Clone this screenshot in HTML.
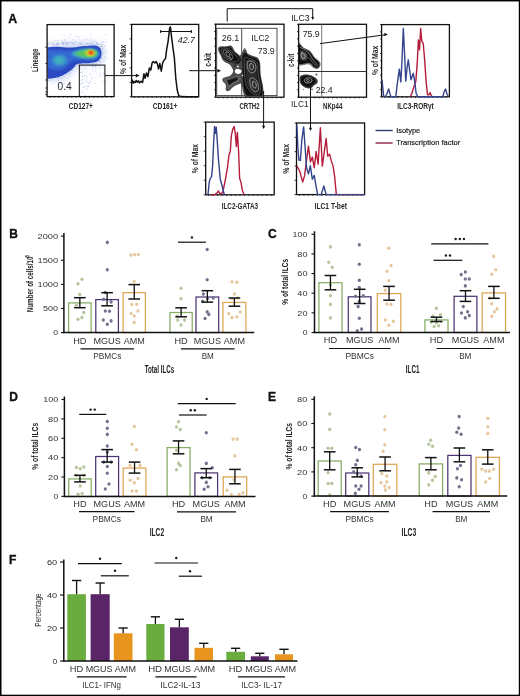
<!DOCTYPE html><html><head><meta charset="utf-8"><title>Figure</title><style>html,body{margin:0;padding:0;background:#fff;width:520px;height:696px;overflow:hidden;}svg{display:block;font-family:"Liberation Sans",sans-serif;will-change:transform;}</style></head><body><svg width="520" height="696" viewBox="0 0 520 696" font-family="'Liberation Sans', sans-serif">
<rect x="0" y="0" width="520" height="696" fill="#fff"/>
<text x="8.30" y="22.90" font-size="12.3" text-anchor="start" fill="#111" stroke="#111" stroke-width="0.35" font-weight="bold">A</text>
<defs><filter id="bl1" x="-20%" y="-20%" width="140%" height="140%"><feGaussianBlur stdDeviation="1.6"/></filter><filter id="bl2" x="-20%" y="-20%" width="140%" height="140%"><feGaussianBlur stdDeviation="1.0"/></filter><filter id="bl4" x="-20%" y="-20%" width="140%" height="140%"><feGaussianBlur stdDeviation="0.6"/></filter><filter id="bl3" x="-50%" y="-50%" width="200%" height="200%"><feGaussianBlur stdDeviation="2.5"/></filter><clipPath id="cp1"><rect x="47.6" y="25.1" width="66" height="71"/></clipPath></defs>
<g clip-path="url(#cp1)">
<path d="M47,43 C60,41.5 80,41 95,41.5 C103,42 105.5,47 105.5,53 C105.5,59 103,64 98,66 L80,66.5 C76,70 72,76 64,80 C58,82 52,82 47,81 Z" fill="#b8c6ee" opacity="0.55" filter="url(#bl3)"/>
<g fill="#7089d8" opacity="0.7"><circle cx="104.5" cy="45.6" r="0.45"/><circle cx="86.5" cy="43.7" r="0.45"/><circle cx="61.8" cy="41.1" r="0.45"/><circle cx="90.7" cy="81.8" r="0.45"/><circle cx="95.6" cy="64.5" r="0.45"/><circle cx="63.6" cy="44.7" r="0.45"/><circle cx="51.9" cy="42.1" r="0.45"/><circle cx="49.7" cy="80.3" r="0.45"/><circle cx="82.3" cy="41.9" r="0.45"/><circle cx="48.2" cy="42.8" r="0.45"/><circle cx="96.1" cy="64.1" r="0.45"/><circle cx="101.9" cy="55.7" r="0.45"/><circle cx="102.9" cy="52.9" r="0.45"/><circle cx="96.6" cy="43.1" r="0.45"/><circle cx="47.3" cy="43.8" r="0.45"/><circle cx="95.5" cy="70.7" r="0.45"/><circle cx="93.5" cy="41.3" r="0.45"/><circle cx="82.9" cy="71.8" r="0.45"/><circle cx="96.4" cy="42.9" r="0.45"/><circle cx="64.8" cy="76.8" r="0.45"/><circle cx="65.0" cy="72.7" r="0.45"/><circle cx="68.2" cy="84.7" r="0.45"/><circle cx="63.7" cy="43.9" r="0.45"/><circle cx="83.8" cy="76.1" r="0.45"/><circle cx="89.6" cy="74.6" r="0.45"/><circle cx="69.2" cy="37.0" r="0.45"/><circle cx="71.4" cy="88.7" r="0.45"/><circle cx="97.4" cy="42.6" r="0.45"/><circle cx="103.7" cy="72.2" r="0.45"/><circle cx="63.6" cy="42.4" r="0.45"/><circle cx="86.9" cy="69.0" r="0.45"/><circle cx="90.7" cy="39.4" r="0.45"/><circle cx="68.9" cy="73.2" r="0.45"/><circle cx="60.2" cy="76.7" r="0.45"/><circle cx="77.9" cy="36.5" r="0.45"/><circle cx="81.9" cy="90.7" r="0.45"/><circle cx="88.6" cy="83.5" r="0.45"/><circle cx="83.9" cy="69.5" r="0.45"/><circle cx="75.1" cy="66.4" r="0.45"/><circle cx="99.1" cy="61.3" r="0.45"/><circle cx="58.3" cy="80.7" r="0.45"/><circle cx="58.8" cy="77.8" r="0.45"/><circle cx="73.9" cy="43.8" r="0.45"/><circle cx="90.2" cy="64.9" r="0.45"/><circle cx="74.2" cy="41.9" r="0.45"/><circle cx="48.0" cy="43.5" r="0.45"/><circle cx="70.1" cy="35.1" r="0.45"/><circle cx="104.0" cy="68.9" r="0.45"/><circle cx="94.2" cy="63.2" r="0.45"/><circle cx="91.4" cy="77.7" r="0.45"/><circle cx="75.8" cy="65.8" r="0.45"/><circle cx="79.8" cy="94.2" r="0.45"/><circle cx="85.5" cy="63.4" r="0.45"/><circle cx="101.7" cy="58.2" r="0.45"/><circle cx="72.2" cy="43.0" r="0.45"/><circle cx="65.8" cy="42.4" r="0.45"/><circle cx="90.9" cy="42.8" r="0.45"/><circle cx="82.2" cy="79.7" r="0.45"/><circle cx="102.5" cy="53.7" r="0.45"/><circle cx="89.5" cy="80.7" r="0.45"/><circle cx="61.2" cy="35.8" r="0.45"/><circle cx="105.3" cy="34.2" r="0.45"/><circle cx="90.6" cy="83.0" r="0.45"/><circle cx="104.7" cy="59.5" r="0.45"/><circle cx="102.4" cy="48.6" r="0.45"/><circle cx="75.3" cy="66.7" r="0.45"/><circle cx="78.9" cy="66.8" r="0.45"/><circle cx="86.6" cy="78.8" r="0.45"/><circle cx="68.7" cy="43.2" r="0.45"/><circle cx="57.4" cy="44.2" r="0.45"/><circle cx="66.2" cy="43.3" r="0.45"/><circle cx="80.2" cy="44.4" r="0.45"/><circle cx="86.1" cy="39.4" r="0.45"/><circle cx="82.5" cy="63.2" r="0.45"/><circle cx="64.8" cy="73.2" r="0.45"/><circle cx="67.5" cy="71.0" r="0.45"/><circle cx="67.8" cy="42.2" r="0.45"/><circle cx="47.3" cy="79.4" r="0.45"/><circle cx="82.5" cy="82.9" r="0.45"/><circle cx="58.4" cy="43.9" r="0.45"/><circle cx="101.7" cy="46.6" r="0.45"/><circle cx="70.5" cy="42.4" r="0.45"/><circle cx="66.0" cy="41.8" r="0.45"/><circle cx="53.2" cy="44.1" r="0.45"/><circle cx="81.4" cy="63.5" r="0.45"/><circle cx="91.1" cy="65.3" r="0.45"/><circle cx="85.2" cy="75.9" r="0.45"/><circle cx="63.8" cy="42.5" r="0.45"/><circle cx="102.7" cy="42.0" r="0.45"/><circle cx="66.0" cy="72.0" r="0.45"/><circle cx="70.0" cy="87.8" r="0.45"/><circle cx="84.7" cy="80.0" r="0.45"/><circle cx="58.3" cy="77.9" r="0.45"/><circle cx="92.2" cy="43.1" r="0.45"/><circle cx="66.4" cy="73.8" r="0.45"/><circle cx="105.5" cy="81.8" r="0.45"/><circle cx="92.0" cy="44.4" r="0.45"/><circle cx="71.6" cy="42.3" r="0.45"/><circle cx="70.4" cy="34.6" r="0.45"/><circle cx="87.1" cy="43.2" r="0.45"/><circle cx="48.9" cy="80.2" r="0.45"/><circle cx="62.0" cy="42.9" r="0.45"/><circle cx="76.1" cy="41.4" r="0.45"/><circle cx="79.5" cy="88.3" r="0.45"/><circle cx="100.1" cy="74.0" r="0.45"/><circle cx="56.9" cy="77.4" r="0.45"/><circle cx="96.0" cy="44.4" r="0.45"/><circle cx="90.8" cy="63.6" r="0.45"/><circle cx="72.3" cy="42.1" r="0.45"/><circle cx="68.7" cy="70.9" r="0.45"/><circle cx="57.3" cy="42.9" r="0.45"/><circle cx="51.7" cy="78.7" r="0.45"/><circle cx="107.4" cy="78.7" r="0.45"/><circle cx="54.9" cy="40.7" r="0.45"/><circle cx="97.5" cy="65.1" r="0.45"/><circle cx="64.2" cy="39.3" r="0.45"/><circle cx="72.5" cy="70.5" r="0.45"/><circle cx="80.2" cy="63.1" r="0.45"/><circle cx="62.4" cy="78.3" r="0.45"/><circle cx="99.5" cy="75.5" r="0.45"/><circle cx="96.2" cy="73.2" r="0.45"/><circle cx="82.6" cy="92.2" r="0.45"/><circle cx="103.0" cy="81.3" r="0.45"/><circle cx="52.9" cy="44.2" r="0.45"/><circle cx="92.8" cy="64.6" r="0.45"/><circle cx="85.4" cy="44.4" r="0.45"/><circle cx="102.2" cy="44.4" r="0.45"/><circle cx="56.3" cy="44.5" r="0.45"/><circle cx="81.3" cy="66.8" r="0.45"/><circle cx="89.2" cy="43.7" r="0.45"/><circle cx="64.6" cy="35.9" r="0.45"/><circle cx="103.1" cy="75.9" r="0.45"/><circle cx="97.4" cy="44.5" r="0.45"/><circle cx="100.2" cy="62.8" r="0.45"/><circle cx="102.3" cy="47.3" r="0.45"/><circle cx="66.3" cy="89.4" r="0.45"/><circle cx="97.5" cy="42.6" r="0.45"/><circle cx="69.9" cy="84.1" r="0.45"/><circle cx="86.3" cy="71.9" r="0.45"/><circle cx="100.3" cy="45.3" r="0.45"/><circle cx="71.5" cy="70.5" r="0.45"/><circle cx="103.0" cy="41.7" r="0.45"/><circle cx="79.3" cy="37.8" r="0.45"/><circle cx="96.6" cy="63.1" r="0.45"/><circle cx="87.1" cy="89.0" r="0.45"/><circle cx="70.0" cy="72.5" r="0.45"/><circle cx="84.6" cy="75.5" r="0.45"/><circle cx="86.0" cy="87.9" r="0.45"/><circle cx="82.1" cy="73.1" r="0.45"/><circle cx="92.0" cy="81.8" r="0.45"/><circle cx="91.4" cy="79.4" r="0.45"/><circle cx="86.4" cy="39.1" r="0.45"/><circle cx="82.8" cy="76.5" r="0.45"/><circle cx="63.1" cy="43.4" r="0.45"/><circle cx="82.7" cy="76.4" r="0.45"/><circle cx="91.4" cy="43.5" r="0.45"/><circle cx="89.7" cy="44.8" r="0.45"/><circle cx="51.6" cy="78.3" r="0.45"/><circle cx="82.6" cy="84.1" r="0.45"/><circle cx="95.0" cy="77.1" r="0.45"/><circle cx="63.6" cy="43.1" r="0.45"/><circle cx="47.7" cy="79.2" r="0.45"/><circle cx="92.4" cy="71.3" r="0.45"/><circle cx="80.5" cy="72.5" r="0.45"/><circle cx="87.3" cy="43.4" r="0.45"/><circle cx="62.9" cy="43.1" r="0.45"/><circle cx="94.6" cy="44.4" r="0.45"/><circle cx="100.4" cy="73.1" r="0.45"/><circle cx="57.8" cy="40.5" r="0.45"/><circle cx="72.9" cy="68.2" r="0.45"/><circle cx="99.7" cy="61.6" r="0.45"/><circle cx="53.9" cy="44.6" r="0.45"/><circle cx="104.3" cy="56.5" r="0.45"/><circle cx="80.0" cy="44.0" r="0.45"/><circle cx="92.4" cy="75.6" r="0.45"/><circle cx="57.8" cy="76.6" r="0.45"/><circle cx="86.4" cy="81.9" r="0.45"/><circle cx="102.2" cy="42.1" r="0.45"/><circle cx="75.7" cy="36.8" r="0.45"/><circle cx="64.8" cy="72.6" r="0.45"/><circle cx="82.6" cy="44.6" r="0.45"/><circle cx="73.6" cy="67.3" r="0.45"/><circle cx="92.5" cy="69.3" r="0.45"/><circle cx="88.2" cy="65.0" r="0.45"/><circle cx="92.5" cy="63.8" r="0.45"/><circle cx="99.3" cy="65.6" r="0.45"/><circle cx="88.0" cy="86.2" r="0.45"/><circle cx="105.1" cy="52.5" r="0.45"/><circle cx="80.7" cy="84.4" r="0.45"/><circle cx="52.6" cy="42.9" r="0.45"/><circle cx="79.8" cy="42.8" r="0.45"/><circle cx="99.8" cy="76.3" r="0.45"/><circle cx="49.5" cy="78.7" r="0.45"/><circle cx="83.6" cy="82.4" r="0.45"/><circle cx="68.6" cy="70.9" r="0.45"/><circle cx="98.1" cy="44.6" r="0.45"/><circle cx="74.9" cy="42.9" r="0.45"/><circle cx="87.0" cy="86.3" r="0.45"/><circle cx="67.0" cy="44.5" r="0.45"/><circle cx="90.5" cy="73.8" r="0.45"/><circle cx="103.9" cy="46.5" r="0.45"/><circle cx="62.3" cy="43.0" r="0.45"/><circle cx="100.1" cy="69.9" r="0.45"/><circle cx="100.6" cy="67.5" r="0.45"/><circle cx="84.9" cy="95.4" r="0.45"/><circle cx="94.2" cy="92.2" r="0.45"/><circle cx="62.2" cy="75.0" r="0.45"/><circle cx="98.9" cy="91.4" r="0.45"/><circle cx="94.0" cy="66.2" r="0.45"/><circle cx="100.7" cy="61.0" r="0.45"/><circle cx="63.2" cy="74.5" r="0.45"/><circle cx="51.9" cy="78.5" r="0.45"/><circle cx="86.6" cy="63.5" r="0.45"/><circle cx="90.8" cy="40.9" r="0.45"/><circle cx="88.9" cy="44.8" r="0.45"/><circle cx="101.6" cy="57.2" r="0.45"/><circle cx="62.5" cy="84.9" r="0.45"/><circle cx="62.6" cy="75.0" r="0.45"/><circle cx="47.7" cy="87.3" r="0.45"/><circle cx="49.5" cy="79.8" r="0.45"/><circle cx="87.1" cy="76.7" r="0.45"/><circle cx="95.9" cy="66.0" r="0.45"/><circle cx="93.6" cy="64.8" r="0.45"/><circle cx="65.2" cy="40.1" r="0.45"/><circle cx="102.9" cy="49.9" r="0.45"/><circle cx="88.7" cy="86.1" r="0.45"/><circle cx="101.4" cy="46.4" r="0.45"/><circle cx="95.7" cy="68.0" r="0.45"/><circle cx="101.6" cy="44.5" r="0.45"/><circle cx="91.5" cy="66.4" r="0.45"/><circle cx="75.1" cy="43.9" r="0.45"/><circle cx="86.9" cy="80.1" r="0.45"/><circle cx="68.9" cy="42.6" r="0.45"/><circle cx="65.9" cy="44.3" r="0.45"/><circle cx="78.9" cy="64.3" r="0.45"/><circle cx="106.9" cy="58.3" r="0.45"/><circle cx="104.0" cy="73.9" r="0.45"/><circle cx="83.9" cy="64.2" r="0.45"/><circle cx="100.7" cy="46.7" r="0.45"/><circle cx="82.6" cy="79.7" r="0.45"/><circle cx="68.6" cy="43.5" r="0.45"/><circle cx="95.7" cy="83.6" r="0.45"/><circle cx="61.8" cy="40.7" r="0.45"/><circle cx="64.2" cy="83.3" r="0.45"/><circle cx="82.7" cy="44.5" r="0.45"/><circle cx="47.3" cy="78.6" r="0.45"/><circle cx="88.5" cy="63.5" r="0.45"/><circle cx="87.8" cy="82.4" r="0.45"/><circle cx="107.5" cy="82.8" r="0.45"/><circle cx="73.4" cy="44.1" r="0.45"/><circle cx="58.5" cy="43.8" r="0.45"/><circle cx="91.1" cy="34.3" r="0.45"/><circle cx="72.6" cy="39.6" r="0.45"/><circle cx="64.4" cy="42.3" r="0.45"/><circle cx="56.1" cy="44.7" r="0.45"/><circle cx="84.9" cy="67.7" r="0.45"/><circle cx="61.8" cy="75.4" r="0.45"/><circle cx="102.5" cy="48.7" r="0.45"/><circle cx="51.5" cy="77.9" r="0.45"/><circle cx="79.6" cy="94.6" r="0.45"/><circle cx="85.4" cy="86.3" r="0.45"/><circle cx="58.0" cy="42.1" r="0.45"/><circle cx="81.7" cy="80.8" r="0.45"/><circle cx="105.8" cy="41.2" r="0.45"/><circle cx="102.6" cy="74.1" r="0.45"/><circle cx="88.8" cy="85.9" r="0.45"/><circle cx="66.3" cy="43.2" r="0.45"/><circle cx="103.0" cy="67.7" r="0.45"/><circle cx="77.8" cy="44.6" r="0.45"/><circle cx="94.9" cy="41.2" r="0.45"/><circle cx="105.3" cy="80.2" r="0.45"/><circle cx="83.5" cy="87.5" r="0.45"/><circle cx="80.3" cy="43.4" r="0.45"/><circle cx="56.8" cy="43.5" r="0.45"/><circle cx="70.5" cy="76.2" r="0.45"/><circle cx="65.8" cy="72.5" r="0.45"/><circle cx="77.6" cy="64.6" r="0.45"/><circle cx="92.7" cy="66.1" r="0.45"/><circle cx="81.4" cy="42.9" r="0.45"/><circle cx="85.6" cy="44.7" r="0.45"/><circle cx="82.0" cy="83.1" r="0.45"/><circle cx="72.4" cy="67.8" r="0.45"/><circle cx="61.7" cy="74.8" r="0.45"/><circle cx="83.2" cy="87.0" r="0.45"/><circle cx="81.0" cy="63.3" r="0.45"/><circle cx="104.0" cy="61.7" r="0.45"/><circle cx="98.2" cy="44.7" r="0.45"/><circle cx="82.5" cy="72.4" r="0.45"/><circle cx="57.8" cy="78.4" r="0.45"/><circle cx="81.0" cy="69.9" r="0.45"/><circle cx="95.3" cy="66.5" r="0.45"/><circle cx="67.1" cy="78.4" r="0.45"/><circle cx="89.3" cy="63.7" r="0.45"/><circle cx="96.3" cy="44.1" r="0.45"/><circle cx="80.2" cy="72.6" r="0.45"/></g>
<path d="M46,47.5 C50,46.8 54,46.6 57.5,46.7 C62,47.0 66,47.6 69,47.6 C72,47.5 74,47.4 76,47.3 C79,46.8 81,46.3 84,46.1 C88,45.8 92,45.4 94.5,45.5 C97,45.8 99,46.6 100.3,48.3 C101.6,50.5 101.8,53.5 101.2,56.2 C100.5,58.5 99.4,60.3 97.6,61.3 C95.5,62.4 92.5,62.8 90,63.0 C86,63.2 82.5,63.3 80.5,63.5 C78,63.8 76.5,64.3 75.5,65.2 C74.5,66.5 73.8,67.8 72.5,69.0 C71,70.3 69.5,71.3 68,72.3 C66,73.6 64.5,74.5 62.5,75.5 C60.5,76.5 58.5,77.0 56.5,77.4 C54,77.9 51,78.5 48.5,78.7 L46,78.7 Z" fill="#2b4ac2" filter="url(#bl4)"/>
<path d="M46,50.5 C52,49.8 60,50.0 68,50.5 C74,50.8 80,49.5 88,48.8 C94,48.5 98.5,49.5 99.2,52.5 C99.8,55.5 98.5,58.5 95.5,59.5 C91,60.5 84,60.2 78,60.2 C73,60.3 70.5,62 68.5,64.5 C66.5,67.2 63.5,69.3 59.5,70.0 C55.5,70.6 51.5,69.5 48.5,68 L46,67 Z" fill="#3468d0" filter="url(#bl2)"/>
<ellipse cx="59.5" cy="60.2" rx="8.0" ry="6.0" fill="#3a8ad0" filter="url(#bl2)"/>
<ellipse cx="59.2" cy="60.5" rx="5.2" ry="3.9" fill="#40b0bc" filter="url(#bl1)"/>
<path d="M71,53.5 C75,51 80,49.2 86,48.8 C92,48.5 97.5,49.3 98.5,52.5 C99.3,55.8 96.5,58.2 91,58.6 C85,59 79,57.8 75,56.3 C73,55.6 71.5,54.6 71,53.5 Z" fill="#3fb4c0" filter="url(#bl2)"/>
<path d="M75,53.4 C79,51.2 84,50.0 89,49.8 C94,49.8 97,51 97,53.3 C97,55.6 94,57.2 89.5,57.3 C84.5,57.4 79.5,56.2 75,53.4 Z" fill="#5cc35a" filter="url(#bl2)"/>
<ellipse cx="90.2" cy="53.0" rx="5.0" ry="3.2" fill="#d8dc38" filter="url(#bl2)"/>
<ellipse cx="90.8" cy="52.8" rx="3.0" ry="2.1" fill="#f0a020" filter="url(#bl2)"/>
<ellipse cx="91.0" cy="52.7" rx="2.2" ry="1.6" fill="#e42a18" filter="url(#bl2)"/>
</g>
<rect x="47.10" y="24.60" width="67.00" height="72.00" fill="none" stroke="#111" stroke-width="1.3"/>
<line x1="45.30" y1="47.20" x2="47.10" y2="47.20" stroke="#111" stroke-width="0.8"/>
<line x1="45.30" y1="63.40" x2="47.10" y2="63.40" stroke="#111" stroke-width="0.8"/>
<line x1="45.30" y1="80.00" x2="47.10" y2="80.00" stroke="#111" stroke-width="0.8"/>
<line x1="45.30" y1="88.00" x2="47.10" y2="88.00" stroke="#111" stroke-width="0.8"/>
<line x1="45.30" y1="92.00" x2="47.10" y2="92.00" stroke="#111" stroke-width="0.8"/>
<line x1="45.30" y1="94.50" x2="47.10" y2="94.50" stroke="#111" stroke-width="0.8"/>
<line x1="50.10" y1="96.60" x2="50.10" y2="97.80" stroke="#111" stroke-width="0.8"/>
<line x1="54.46" y1="96.60" x2="54.46" y2="97.80" stroke="#111" stroke-width="0.8"/>
<line x1="58.81" y1="96.60" x2="58.81" y2="97.80" stroke="#111" stroke-width="0.8"/>
<line x1="63.17" y1="96.60" x2="63.17" y2="97.80" stroke="#111" stroke-width="0.8"/>
<line x1="67.53" y1="96.60" x2="67.53" y2="97.80" stroke="#111" stroke-width="0.8"/>
<line x1="71.89" y1="96.60" x2="71.89" y2="97.80" stroke="#111" stroke-width="0.8"/>
<line x1="76.24" y1="96.60" x2="76.24" y2="97.80" stroke="#111" stroke-width="0.8"/>
<line x1="80.60" y1="96.60" x2="80.60" y2="97.80" stroke="#111" stroke-width="0.8"/>
<line x1="84.96" y1="96.60" x2="84.96" y2="97.80" stroke="#111" stroke-width="0.8"/>
<line x1="89.31" y1="96.60" x2="89.31" y2="97.80" stroke="#111" stroke-width="0.8"/>
<line x1="93.67" y1="96.60" x2="93.67" y2="97.80" stroke="#111" stroke-width="0.8"/>
<line x1="98.03" y1="96.60" x2="98.03" y2="97.80" stroke="#111" stroke-width="0.8"/>
<line x1="102.39" y1="96.60" x2="102.39" y2="97.80" stroke="#111" stroke-width="0.8"/>
<line x1="106.74" y1="96.60" x2="106.74" y2="97.80" stroke="#111" stroke-width="0.8"/>
<line x1="111.10" y1="96.60" x2="111.10" y2="97.80" stroke="#111" stroke-width="0.8"/>
<rect x="79.30" y="65.10" width="25.60" height="31.50" fill="none" stroke="#111" stroke-width="1.0"/>
<text x="64.70" y="89.60" font-size="10.2" text-anchor="middle" fill="#2a2a38">0.4</text>
<text x="38.30" y="60.30" font-size="8.6" text-anchor="middle" fill="#262626" font-weight="bold" textLength="23.3" lengthAdjust="spacingAndGlyphs" transform="rotate(-90 38.30 60.30)">Lineage</text>
<text x="80.80" y="109.30" font-size="8.2" text-anchor="middle" fill="#262626" font-weight="bold" textLength="24.2" lengthAdjust="spacingAndGlyphs">CD127+</text>
<line x1="104.90" y1="75.60" x2="136.50" y2="75.60" stroke="#111" stroke-width="1.0"/>
<polygon points="139.50,75.60 135.86,73.78 135.86,77.42" fill="#111"/>
<rect x="131.60" y="24.40" width="67.10" height="72.40" fill="none" stroke="#111" stroke-width="1.3"/>
<line x1="129.60" y1="96.80" x2="131.60" y2="96.80" stroke="#111" stroke-width="0.8"/>
<line x1="129.60" y1="82.32" x2="131.60" y2="82.32" stroke="#111" stroke-width="0.8"/>
<line x1="129.60" y1="67.84" x2="131.60" y2="67.84" stroke="#111" stroke-width="0.8"/>
<line x1="129.60" y1="53.36" x2="131.60" y2="53.36" stroke="#111" stroke-width="0.8"/>
<line x1="129.60" y1="38.88" x2="131.60" y2="38.88" stroke="#111" stroke-width="0.8"/>
<line x1="129.60" y1="24.40" x2="131.60" y2="24.40" stroke="#111" stroke-width="0.8"/>
<line x1="134.60" y1="96.80" x2="134.60" y2="98.00" stroke="#111" stroke-width="0.8"/>
<line x1="138.96" y1="96.80" x2="138.96" y2="98.00" stroke="#111" stroke-width="0.8"/>
<line x1="143.33" y1="96.80" x2="143.33" y2="98.00" stroke="#111" stroke-width="0.8"/>
<line x1="147.69" y1="96.80" x2="147.69" y2="98.00" stroke="#111" stroke-width="0.8"/>
<line x1="152.06" y1="96.80" x2="152.06" y2="98.00" stroke="#111" stroke-width="0.8"/>
<line x1="156.42" y1="96.80" x2="156.42" y2="98.00" stroke="#111" stroke-width="0.8"/>
<line x1="160.79" y1="96.80" x2="160.79" y2="98.00" stroke="#111" stroke-width="0.8"/>
<line x1="165.15" y1="96.80" x2="165.15" y2="98.00" stroke="#111" stroke-width="0.8"/>
<line x1="169.51" y1="96.80" x2="169.51" y2="98.00" stroke="#111" stroke-width="0.8"/>
<line x1="173.88" y1="96.80" x2="173.88" y2="98.00" stroke="#111" stroke-width="0.8"/>
<line x1="178.24" y1="96.80" x2="178.24" y2="98.00" stroke="#111" stroke-width="0.8"/>
<line x1="182.61" y1="96.80" x2="182.61" y2="98.00" stroke="#111" stroke-width="0.8"/>
<line x1="186.97" y1="96.80" x2="186.97" y2="98.00" stroke="#111" stroke-width="0.8"/>
<line x1="191.34" y1="96.80" x2="191.34" y2="98.00" stroke="#111" stroke-width="0.8"/>
<line x1="195.70" y1="96.80" x2="195.70" y2="98.00" stroke="#111" stroke-width="0.8"/>
<path d="M132.27,79.74 L133.12,83.30 L133.97,81.45 L135.11,82.59 L136.25,80.46 L137.39,82.30 L138.53,80.88 L139.66,82.87 L141.09,81.17 L142.51,82.59 L143.93,73.77 L145.07,78.32 L146.49,72.92 L147.91,76.61 L149.34,68.08 L150.76,70.07 L152.18,62.67 L153.32,61.54 L154.74,62.96 L156.17,61.54 L157.45,64.10 L158.58,69.08 L159.86,63.53 L161.29,71.21 L162.71,62.67 L164.13,60.11 L165.55,58.41 L166.69,49.16 L168.11,41.34 L169.54,28.82 L170.39,26.83 L171.53,36.79 L172.95,47.74 L174.37,58.12 L175.80,78.32 L177.22,89.99 L178.64,95.39 L180.63,96.53 L187.74,96.81 L198.41,96.81" fill="none" stroke="#111" stroke-width="1.5" stroke-linejoin="round"/>
<line x1="160.70" y1="31.50" x2="191.30" y2="31.50" stroke="#111" stroke-width="1.0"/>
<line x1="160.70" y1="30.00" x2="160.70" y2="33.00" stroke="#111" stroke-width="1.1"/>
<line x1="191.30" y1="30.00" x2="191.30" y2="33.00" stroke="#111" stroke-width="1.1"/>
<text x="186.30" y="42.50" font-size="8.8" text-anchor="middle" fill="#222" font-style="italic">42.7</text>
<text x="126.00" y="59.30" font-size="8.8" text-anchor="middle" fill="#262626" font-weight="bold" textLength="29.3" lengthAdjust="spacingAndGlyphs" transform="rotate(-90 126.00 59.30)">% of Max</text>
<text x="165.10" y="109.40" font-size="8.4" text-anchor="middle" fill="#262626" font-weight="bold" textLength="24.8" lengthAdjust="spacingAndGlyphs">CD161+</text>
<line x1="189.20" y1="70.70" x2="218.50" y2="70.70" stroke="#111" stroke-width="1.0"/>
<polygon points="221.00,70.70 217.50,68.95 217.50,72.45" fill="#111"/>
<rect x="215.70" y="24.20" width="68.30" height="73.00" fill="none" stroke="#111" stroke-width="1.3"/>
<line x1="214.10" y1="97.20" x2="215.70" y2="97.20" stroke="#111" stroke-width="0.8"/>
<line x1="214.10" y1="89.90" x2="215.70" y2="89.90" stroke="#111" stroke-width="0.8"/>
<line x1="214.10" y1="82.60" x2="215.70" y2="82.60" stroke="#111" stroke-width="0.8"/>
<line x1="214.10" y1="75.30" x2="215.70" y2="75.30" stroke="#111" stroke-width="0.8"/>
<line x1="214.10" y1="68.00" x2="215.70" y2="68.00" stroke="#111" stroke-width="0.8"/>
<line x1="214.10" y1="60.70" x2="215.70" y2="60.70" stroke="#111" stroke-width="0.8"/>
<line x1="214.10" y1="53.40" x2="215.70" y2="53.40" stroke="#111" stroke-width="0.8"/>
<line x1="214.10" y1="46.10" x2="215.70" y2="46.10" stroke="#111" stroke-width="0.8"/>
<line x1="214.10" y1="38.80" x2="215.70" y2="38.80" stroke="#111" stroke-width="0.8"/>
<line x1="214.10" y1="31.50" x2="215.70" y2="31.50" stroke="#111" stroke-width="0.8"/>
<line x1="214.10" y1="24.20" x2="215.70" y2="24.20" stroke="#111" stroke-width="0.8"/>
<line x1="218.70" y1="97.20" x2="218.70" y2="98.40" stroke="#111" stroke-width="0.8"/>
<line x1="223.15" y1="97.20" x2="223.15" y2="98.40" stroke="#111" stroke-width="0.8"/>
<line x1="227.60" y1="97.20" x2="227.60" y2="98.40" stroke="#111" stroke-width="0.8"/>
<line x1="232.05" y1="97.20" x2="232.05" y2="98.40" stroke="#111" stroke-width="0.8"/>
<line x1="236.50" y1="97.20" x2="236.50" y2="98.40" stroke="#111" stroke-width="0.8"/>
<line x1="240.95" y1="97.20" x2="240.95" y2="98.40" stroke="#111" stroke-width="0.8"/>
<line x1="245.40" y1="97.20" x2="245.40" y2="98.40" stroke="#111" stroke-width="0.8"/>
<line x1="249.85" y1="97.20" x2="249.85" y2="98.40" stroke="#111" stroke-width="0.8"/>
<line x1="254.30" y1="97.20" x2="254.30" y2="98.40" stroke="#111" stroke-width="0.8"/>
<line x1="258.75" y1="97.20" x2="258.75" y2="98.40" stroke="#111" stroke-width="0.8"/>
<line x1="263.20" y1="97.20" x2="263.20" y2="98.40" stroke="#111" stroke-width="0.8"/>
<line x1="267.65" y1="97.20" x2="267.65" y2="98.40" stroke="#111" stroke-width="0.8"/>
<line x1="272.10" y1="97.20" x2="272.10" y2="98.40" stroke="#111" stroke-width="0.8"/>
<line x1="276.55" y1="97.20" x2="276.55" y2="98.40" stroke="#111" stroke-width="0.8"/>
<line x1="281.00" y1="97.20" x2="281.00" y2="98.40" stroke="#111" stroke-width="0.8"/>
<rect x="216.70" y="28.30" width="60.30" height="67.30" fill="none" stroke="#3a3a3a" stroke-width="0.9"/>
<line x1="241.70" y1="28.30" x2="241.70" y2="95.60" stroke="#3a3a3a" stroke-width="0.9"/>
<text x="230.50" y="40.70" font-size="9.0" text-anchor="middle" fill="#222">26.1</text>
<text x="260.30" y="40.70" font-size="9.0" text-anchor="middle" fill="#222" textLength="18.0" lengthAdjust="spacingAndGlyphs">ILC2</text>
<text x="266.20" y="54.20" font-size="8.8" text-anchor="middle" fill="#222">73.9</text>
<path d="M218.2,48 C219.5,46 222,46.2 224.5,46.6 C227,46.4 229,45.4 231,45.6 C232.8,46.4 233.4,49 234.5,51 C236,52.5 238,54 240,55.8 C241.2,54 242.5,51.5 243.8,50.3 C245,49.6 246.5,50.5 247.6,53.6 C250.5,55.5 254.5,56.2 257.5,57.6 C259.6,59.5 260.4,63 260.4,67 C260.4,71 260.6,75 261.4,78.5 C262.4,82.5 263.2,86.5 263.4,90 C263.6,93 263.4,95.5 262.8,97 L245,97 C243.6,94.5 242.6,91 242.4,88 C242,86 241.6,84.5 240.8,83.4 C238.5,84.2 236,84.8 233.8,86.4 C231.6,88 230,90.5 228.2,91.2 C226,91.4 225.2,89.5 225.8,87.5 C226.3,85.5 225.4,83.8 224,82.5 C222.4,81.2 221.6,79.5 223,78.2 C225,77.2 227.5,77 229.6,76 C231.6,74.8 233,73 233.2,71 C233.0,69 231.8,67.5 231,66 C229.8,64.2 227.5,63.2 225.2,62.2 C223,61 221.6,59 221.2,56.6 C220.4,54.4 218.6,52.6 218.2,50 Z" fill="#4a4a4a" stroke="none"/>
<path d="M219.5,48.4 C221.5,47 224,47.4 226.5,47.6 C228.5,47.3 230.5,46.8 231.5,48 C232.3,50 233.6,52 235.6,53.6 C237.6,55 239.6,56.6 240.8,58.6 C241.4,60.6 240.4,62.6 238.6,63.4 C236.4,64 234,63.4 231.8,62.6 C229.2,61.6 226.6,60.8 224.6,59.2 C222.6,57.6 221.8,55.2 221,53 C220.2,51.4 219.2,50 219.5,48.4 Z" fill="#111" stroke="none"/>
<path d="M242.6,56 C243.6,53.6 245,51.6 246.4,53.4 C247.6,55.4 250,56.6 253,57.4 C256,58.2 258.4,59.4 259.2,62.4 C259.8,66 259.4,70 259.8,74 C260.4,78 261.4,82 262,86 C262.6,89.5 262.6,93 261.8,95.8 L247,95.8 C245.4,93.6 244.4,90.5 243.8,87.4 C243.2,84 242.8,80 242.6,76 C242.4,71 242.6,66 242.4,61 C242.3,59 242.3,57.5 242.6,56 Z" fill="#111" stroke="none"/>
<path d="M224,79.2 C226.5,78.2 229.5,77.8 232,76.6 C234.5,75.4 237.2,74.8 239.2,75.4 C240.8,76.6 241,79 240,81 C238.6,82.6 236,83.4 234,84.6 C232,86 230.4,88.2 228.8,89.6 C227.6,90.2 227,89 227.4,87.6 C227.6,85.6 226.4,83.6 225,82.4 C223.8,81.4 223.2,80.2 224,79.2 Z" fill="#5c5c5c" stroke="none"/>
<path d="M226.5,79.6 C228.5,78.8 231,78.6 233,77.8 C235,77 237,76.8 238,77.6 C238.6,79 237.4,80.4 235.6,81.2 C233.6,82 231.8,83 230.2,84.4 C229,85.2 228.2,84.4 228.2,83.2 C228.2,82 227.4,81 226.6,80.6 Z" fill="#151515" stroke="none"/>
<path d="M235.5,69.5 C237.5,68.6 240,69 241.4,70.5 C242,72 240.6,73.6 238.6,74 C236.6,74.2 235,73.2 234.8,71.6 C234.7,70.6 235,70 235.5,69.5 Z" fill="#fff"/>
<path d="M221.2,49.2 C223.5,48.6 226,49 228.6,48.8 C230.6,49 231.4,51 232.8,53 C234.6,55 237,56.2 238.6,58.2 C239.4,60 238.4,61.8 236.4,62 C233.6,62 231,61 228.4,60 C225.8,59 224,57.4 223,55 C222.2,53 221.2,51.2 221.2,49.2 Z" fill="none" stroke="#808080" stroke-width="0.55"/>
<path d="M223.4,50.4 C225.4,50 227.6,50.2 229.4,51 C231,52.4 231.6,54.6 232.6,56.4 C233.4,58.2 232.2,59.6 230.4,59.2 C228.2,58.6 226.2,57.4 225,55.6 C224,54 223.4,52.2 223.4,50.4 Z" fill="none" stroke="#b0b0b0" stroke-width="0.55"/>
<path d="M226,52 C227.6,51.6 229,52.4 229.6,54 C230.2,55.6 229.4,57 228,56.6 C226.8,56 226,54.6 226,53.2 Z" fill="none" stroke="#e0e0e0" stroke-width="0.6"/>
<path d="M245.6,60 C247.5,58.8 250.5,59.6 253,60.8 C255.5,62 256.8,64.5 256.6,68 C256.4,71.5 256.6,75 257.6,78.5 C258.6,82 259.4,86 259,90 C258.4,93 255.6,93.6 253,92.4 C250.4,91 248.6,88 247.6,85 C246.6,82 246.2,78.5 246,75 C245.8,70 245.2,64.5 245.6,60 Z" fill="#2c2c2c"/>
<path d="M244.2,58.2 C245.6,56.6 247.6,57.6 249.8,58.6 C252.6,59.6 255.6,60.4 257.2,62.8 C258.2,65.6 257.6,68.8 257.8,72 C258.2,75 259.2,78.6 259.8,82 C260.4,86 260.6,90 259.6,93.6 C257.6,95 254.4,94.4 252,93 C249.2,91 247.4,88 246.2,84.8 C245,81.4 244.8,78 244.6,74.6 C244.4,69 244,63.4 244.2,58.2 Z" fill="none" stroke="#808080" stroke-width="0.55"/>
<path d="M247.6,61.6 C249.6,60.2 252.6,61 254.6,62.8 C256.2,64.8 256.2,67.6 255.6,70.2 C254.8,72.6 252.6,73.4 250.6,72.6 C248.6,71.4 247.6,69 247.2,66.4 C247,64.6 247,63 247.6,61.6 Z" fill="none" stroke="#c8c8c8" stroke-width="0.6"/>
<path d="M250.2,63.8 C251.6,63.2 253,64 253.4,65.8 C253.8,67.8 253,69.6 251.6,69.6 C250.2,69.4 249.6,67.8 249.6,66.2 C249.6,65.2 249.8,64.4 250.2,63.8 Z" fill="none" stroke="#eaeaea" stroke-width="0.6"/>
<path d="M250.4,78.2 C252.4,77.2 254.8,78.4 256.4,80.6 C258,83 258.8,86 258.6,89 C258.2,91.6 256,92.2 254,91.2 C251.8,90 250.6,87.6 250.2,85 C249.8,82.6 249.6,80 250.4,78.2 Z" fill="none" stroke="#c0c0c0" stroke-width="0.6"/>
<path d="M252.8,81.4 C254,81 255.4,82 256,83.8 C256.6,85.6 256.4,87.6 255.2,88 C253.8,88.2 252.8,86.8 252.6,85 C252.4,83.6 252.4,82.2 252.8,81.4 Z" fill="none" stroke="#e6e6e6" stroke-width="0.6"/>
<path d="M226,80.2 C228.4,79.4 231,79.2 233.4,78.2 C235.6,77.4 238,77.2 238.6,78.6 C238.8,80 237,81.2 235,82 C232.6,83 230.6,84.4 229.2,86.4" fill="none" stroke="#888" stroke-width="0.55"/>
<path d="M229,56.6 C230.6,57.2 231.4,58.6 231,59.8" fill="none" stroke="#fff" stroke-width="0.5"/>
<circle cx="235" cy="65.5" r="0.9" fill="#222"/><circle cx="237.8" cy="66.5" r="1.1" fill="#fff" stroke="#555" stroke-width="0.4"/><circle cx="245.5" cy="92" r="0.9" fill="#222"/><circle cx="242.6" cy="75.5" r="0.7" fill="#fff"/>
<path d="M243.2,50.8 L244.6,48.2 L246.2,50.8 Z" fill="none" stroke="#222" stroke-width="0.7"/>
<text x="210.60" y="59.90" font-size="8.8" text-anchor="middle" fill="#262626" font-weight="bold" textLength="13.8" lengthAdjust="spacingAndGlyphs" transform="rotate(-90 210.60 59.90)">c-kit</text>
<text x="249.50" y="108.80" font-size="8.4" text-anchor="middle" fill="#262626" font-weight="bold" textLength="20.2" lengthAdjust="spacingAndGlyphs">CRTH2</text>
<line x1="227.20" y1="21.50" x2="227.20" y2="8.70" stroke="#111" stroke-width="1.0"/>
<line x1="227.20" y1="8.70" x2="312.70" y2="8.70" stroke="#111" stroke-width="1.0"/>
<line x1="312.70" y1="8.70" x2="312.70" y2="17.00" stroke="#111" stroke-width="1.0"/>
<polygon points="312.70,20.00 311.16,16.92 314.24,16.92" fill="#111"/>
<line x1="263.60" y1="91.00" x2="263.60" y2="126.00" stroke="#111" stroke-width="1.0"/>
<polygon points="263.60,129.00 261.92,125.64 265.28,125.64" fill="#111"/>
<rect x="298.60" y="24.30" width="67.90" height="72.90" fill="none" stroke="#111" stroke-width="1.3"/>
<line x1="297.00" y1="97.20" x2="298.60" y2="97.20" stroke="#111" stroke-width="0.8"/>
<line x1="297.00" y1="89.91" x2="298.60" y2="89.91" stroke="#111" stroke-width="0.8"/>
<line x1="297.00" y1="82.62" x2="298.60" y2="82.62" stroke="#111" stroke-width="0.8"/>
<line x1="297.00" y1="75.33" x2="298.60" y2="75.33" stroke="#111" stroke-width="0.8"/>
<line x1="297.00" y1="68.04" x2="298.60" y2="68.04" stroke="#111" stroke-width="0.8"/>
<line x1="297.00" y1="60.75" x2="298.60" y2="60.75" stroke="#111" stroke-width="0.8"/>
<line x1="297.00" y1="53.46" x2="298.60" y2="53.46" stroke="#111" stroke-width="0.8"/>
<line x1="297.00" y1="46.17" x2="298.60" y2="46.17" stroke="#111" stroke-width="0.8"/>
<line x1="297.00" y1="38.88" x2="298.60" y2="38.88" stroke="#111" stroke-width="0.8"/>
<line x1="297.00" y1="31.59" x2="298.60" y2="31.59" stroke="#111" stroke-width="0.8"/>
<line x1="297.00" y1="24.30" x2="298.60" y2="24.30" stroke="#111" stroke-width="0.8"/>
<line x1="301.60" y1="97.20" x2="301.60" y2="98.40" stroke="#111" stroke-width="0.8"/>
<line x1="306.02" y1="97.20" x2="306.02" y2="98.40" stroke="#111" stroke-width="0.8"/>
<line x1="310.44" y1="97.20" x2="310.44" y2="98.40" stroke="#111" stroke-width="0.8"/>
<line x1="314.86" y1="97.20" x2="314.86" y2="98.40" stroke="#111" stroke-width="0.8"/>
<line x1="319.29" y1="97.20" x2="319.29" y2="98.40" stroke="#111" stroke-width="0.8"/>
<line x1="323.71" y1="97.20" x2="323.71" y2="98.40" stroke="#111" stroke-width="0.8"/>
<line x1="328.13" y1="97.20" x2="328.13" y2="98.40" stroke="#111" stroke-width="0.8"/>
<line x1="332.55" y1="97.20" x2="332.55" y2="98.40" stroke="#111" stroke-width="0.8"/>
<line x1="336.97" y1="97.20" x2="336.97" y2="98.40" stroke="#111" stroke-width="0.8"/>
<line x1="341.39" y1="97.20" x2="341.39" y2="98.40" stroke="#111" stroke-width="0.8"/>
<line x1="345.81" y1="97.20" x2="345.81" y2="98.40" stroke="#111" stroke-width="0.8"/>
<line x1="350.24" y1="97.20" x2="350.24" y2="98.40" stroke="#111" stroke-width="0.8"/>
<line x1="354.66" y1="97.20" x2="354.66" y2="98.40" stroke="#111" stroke-width="0.8"/>
<line x1="359.08" y1="97.20" x2="359.08" y2="98.40" stroke="#111" stroke-width="0.8"/>
<line x1="363.50" y1="97.20" x2="363.50" y2="98.40" stroke="#111" stroke-width="0.8"/>
<line x1="321.70" y1="24.30" x2="321.70" y2="97.20" stroke="#666" stroke-width="0.9"/>
<line x1="298.60" y1="71.50" x2="366.50" y2="71.50" stroke="#333" stroke-width="1.0"/>
<path d="M298.8,41.5 C300.2,43.5 301.5,45.5 303.5,47.5 C305.5,48.8 307.8,49.2 310,50.8 C312,52.6 313,55 315,57.6 C317,59.4 319.6,60.4 320.4,62.8 C321,65.2 320,67.8 318,68.8 C315.8,69.4 313.6,68.4 312,66.8 C310.6,65.2 309.6,64 307.6,64.2 C305.4,64.6 303,65.4 301,65.4 L298.8,65.4 Z" fill="#777" stroke="none"/>
<path d="M298.8,43.2 C300.2,45.2 301.6,47 303.6,48.6 C305.8,49.8 308,50.4 309.8,52 C311.6,53.8 312.6,56 314.4,58.2 C316.4,60 318.8,61.2 319.4,63.4 C319.8,65.4 318.8,67.4 317.2,67.8 C315.4,68 314,66.8 312.8,65.4 C311.4,63.8 310,62.6 307.8,62.8 C305.4,63.2 303,64.2 300.8,64.2 L298.8,64.2 Z" fill="#111" stroke="none"/>
<path d="M300.6,50.2 C302.4,50.4 304.4,51.4 306,52.8 C307.6,54.4 308,56.4 307.4,58.4 C306.6,60 304.8,60.6 303,60.4 C301.4,60.2 300.4,59 300.2,57.2 C300,55 300,52.4 300.6,50.2 Z" fill="#4a4a4a"/>
<path d="M299.8,47.2 C302.6,48.6 305.4,50 307.8,52 C309.8,54 310.8,56.6 312.4,59 C314,61.4 316.4,63.2 317.4,65.4" fill="none" stroke="#bbb" stroke-width="0.6"/>
<path d="M301.6,52.6 C303.4,53.2 304.8,54.6 305.2,56.4 C305.4,58 304,58.8 302.6,58.4 C301.4,57.8 301,56.2 301.2,54.4 Z" fill="none" stroke="#e0e0e0" stroke-width="0.6"/>
<path d="M308.4,57.6 C310,58.6 311.4,60.6 312.6,62.4 C313.8,64 315.4,65.4 316.6,66.2" fill="none" stroke="#999" stroke-width="0.6"/>
<path d="M300.4,76 C302.4,74.6 305,74.2 307.6,74.6 C310.4,75 313,76 315.2,77.6 C317.4,79 318.4,81 317.4,83 C316.2,84.4 314.4,84.8 313.4,86 C312.6,87.6 311,88.4 309,88.4 C306.6,88.2 304.4,87.4 302.6,86 C300.8,84.6 299.8,82.4 299.6,80.2 C299.4,78.6 299.6,77 300.4,76 Z" fill="#3a3a3a" stroke="none"/>
<path d="M301.6,77 C303.6,75.8 306,75.6 308.4,76.2 C311,76.8 313.4,77.8 315,79.4 C316.4,80.8 316,82.6 314.4,83.4 C312.8,84.2 311.6,85.4 310.6,86.6 C309,87.4 306.8,87 304.8,86 C302.8,85 301.4,83.4 301,81.4 C300.8,79.8 300.9,78.2 301.6,77 Z" fill="#111" stroke="none"/>
<path d="M304.4,79.6 C305.6,77.8 308.2,77.4 310.4,78.2 C312.2,79 312.6,80.8 311.2,82 C309.6,83 307,83.2 305.4,82.4 C304.2,81.6 303.9,80.6 304.4,79.6 Z" fill="none" stroke="#c8c8c8" stroke-width="0.7"/>
<path d="M306.4,79.8 C307.4,79.2 308.8,79.4 309.4,80.2 C309.6,81 308.6,81.6 307.4,81.4 C306.6,81.2 306.1,80.6 306.4,79.8 Z" fill="none" stroke="#eee" stroke-width="0.5"/>
<circle cx="316.4" cy="74.6" r="1.1" fill="#666"/><circle cx="312" cy="89.2" r="0.8" fill="#333"/><circle cx="303.5" cy="89.5" r="0.6" fill="#777"/><circle cx="317.6" cy="87.4" r="0.6" fill="#888"/>
<text x="311.20" y="36.60" font-size="8.8" text-anchor="middle" fill="#222">75.9</text>
<text x="324.20" y="92.50" font-size="8.8" text-anchor="middle" fill="#222">22.4</text>
<text x="300.40" y="21.00" font-size="8.6" text-anchor="middle" fill="#222" textLength="18.5" lengthAdjust="spacingAndGlyphs">ILC3</text>
<text x="299.80" y="107.00" font-size="8.6" text-anchor="middle" fill="#222" textLength="17.5" lengthAdjust="spacingAndGlyphs">ILC1</text>
<text x="293.70" y="60.30" font-size="8.8" text-anchor="middle" fill="#262626" font-weight="bold" textLength="13.2" lengthAdjust="spacingAndGlyphs" transform="rotate(-90 293.70 60.30)">c-kit</text>
<text x="332.70" y="108.80" font-size="8.4" text-anchor="middle" fill="#262626" font-weight="bold" textLength="19.2" lengthAdjust="spacingAndGlyphs">NKp44</text>
<line x1="320.00" y1="43.60" x2="385.00" y2="34.80" stroke="#111" stroke-width="1.0"/>
<polygon points="387.80,34.50 384.44,32.82 384.44,36.18" fill="#111"/>
<line x1="310.50" y1="86.00" x2="310.50" y2="128.00" stroke="#111" stroke-width="1.0"/>
<polygon points="310.50,131.00 308.82,127.64 312.18,127.64" fill="#111"/>
<rect x="381.60" y="24.60" width="67.80" height="72.20" fill="none" stroke="#111" stroke-width="1.3"/>
<line x1="380.00" y1="96.80" x2="381.60" y2="96.80" stroke="#111" stroke-width="0.8"/>
<line x1="380.00" y1="89.58" x2="381.60" y2="89.58" stroke="#111" stroke-width="0.8"/>
<line x1="380.00" y1="82.36" x2="381.60" y2="82.36" stroke="#111" stroke-width="0.8"/>
<line x1="380.00" y1="75.14" x2="381.60" y2="75.14" stroke="#111" stroke-width="0.8"/>
<line x1="380.00" y1="67.92" x2="381.60" y2="67.92" stroke="#111" stroke-width="0.8"/>
<line x1="380.00" y1="60.70" x2="381.60" y2="60.70" stroke="#111" stroke-width="0.8"/>
<line x1="380.00" y1="53.48" x2="381.60" y2="53.48" stroke="#111" stroke-width="0.8"/>
<line x1="380.00" y1="46.26" x2="381.60" y2="46.26" stroke="#111" stroke-width="0.8"/>
<line x1="380.00" y1="39.04" x2="381.60" y2="39.04" stroke="#111" stroke-width="0.8"/>
<line x1="380.00" y1="31.82" x2="381.60" y2="31.82" stroke="#111" stroke-width="0.8"/>
<line x1="380.00" y1="24.60" x2="381.60" y2="24.60" stroke="#111" stroke-width="0.8"/>
<line x1="384.60" y1="96.80" x2="384.60" y2="98.00" stroke="#111" stroke-width="0.8"/>
<line x1="389.01" y1="96.80" x2="389.01" y2="98.00" stroke="#111" stroke-width="0.8"/>
<line x1="393.43" y1="96.80" x2="393.43" y2="98.00" stroke="#111" stroke-width="0.8"/>
<line x1="397.84" y1="96.80" x2="397.84" y2="98.00" stroke="#111" stroke-width="0.8"/>
<line x1="402.26" y1="96.80" x2="402.26" y2="98.00" stroke="#111" stroke-width="0.8"/>
<line x1="406.67" y1="96.80" x2="406.67" y2="98.00" stroke="#111" stroke-width="0.8"/>
<line x1="411.09" y1="96.80" x2="411.09" y2="98.00" stroke="#111" stroke-width="0.8"/>
<line x1="415.50" y1="96.80" x2="415.50" y2="98.00" stroke="#111" stroke-width="0.8"/>
<line x1="419.91" y1="96.80" x2="419.91" y2="98.00" stroke="#111" stroke-width="0.8"/>
<line x1="424.33" y1="96.80" x2="424.33" y2="98.00" stroke="#111" stroke-width="0.8"/>
<line x1="428.74" y1="96.80" x2="428.74" y2="98.00" stroke="#111" stroke-width="0.8"/>
<line x1="433.16" y1="96.80" x2="433.16" y2="98.00" stroke="#111" stroke-width="0.8"/>
<line x1="437.57" y1="96.80" x2="437.57" y2="98.00" stroke="#111" stroke-width="0.8"/>
<line x1="441.99" y1="96.80" x2="441.99" y2="98.00" stroke="#111" stroke-width="0.8"/>
<line x1="446.40" y1="96.80" x2="446.40" y2="98.00" stroke="#111" stroke-width="0.8"/>
<path d="M410.43,96.81 L412.14,92.55 L413.85,86.86 L415.84,81.17 L417.26,62.67 L418.40,39.91 L419.54,49.87 L420.67,28.53 L421.81,41.34 L423.23,43.47 L424.66,59.83 L426.08,81.17 L427.50,94.68 L428.92,94.68 L430.06,92.55 L431.49,96.10 L433.19,96.81" fill="none" stroke="#b41c3c" stroke-width="1.4" stroke-linejoin="round"/>
<path d="M381.98,79.74 L382.84,88.28 L383.69,96.10 L385.40,96.81 L386.82,93.97 L388.67,88.99 L390.23,94.68 L391.09,96.81 L395.78,96.81 L396.92,86.86 L398.20,76.90 L399.34,69.08 L400.76,81.88 L401.90,62.67 L403.32,28.53 L404.46,51.29 L405.74,81.17 L407.16,66.94 L408.30,59.83 L409.58,69.79 L411.00,79.74 L413.28,73.34 L414.70,81.17 L416.12,93.26 L417.83,96.81 L442.72,96.81 L444.15,91.83 L445.57,88.99 L446.99,93.97 L448.41,96.81" fill="none" stroke="#34448c" stroke-width="1.4" stroke-linejoin="round"/>
<text x="377.60" y="60.40" font-size="8.8" text-anchor="middle" fill="#262626" font-weight="bold" textLength="29.3" lengthAdjust="spacingAndGlyphs" transform="rotate(-90 377.60 60.40)">% of Max</text>
<text x="415.50" y="108.60" font-size="8.4" text-anchor="middle" fill="#262626" font-weight="bold" textLength="36.5" lengthAdjust="spacingAndGlyphs">ILC3-RORγt</text>
<line x1="375.50" y1="130.50" x2="392.70" y2="130.50" stroke="#2e3d6a" stroke-width="1.4"/>
<text x="396.20" y="133.30" font-size="7.8" text-anchor="start" fill="#222" stroke="#222" stroke-width="0.2" textLength="24.0" lengthAdjust="spacingAndGlyphs">Isotype</text>
<line x1="375.50" y1="143.00" x2="392.70" y2="143.00" stroke="#8e2240" stroke-width="1.4"/>
<text x="396.20" y="145.00" font-size="7.8" text-anchor="start" fill="#222" stroke="#222" stroke-width="0.2" textLength="64.0" lengthAdjust="spacingAndGlyphs">Transcription factor</text>
<rect x="205.70" y="122.10" width="68.50" height="72.70" fill="none" stroke="#111" stroke-width="1.3"/>
<line x1="203.70" y1="194.80" x2="205.70" y2="194.80" stroke="#111" stroke-width="0.8"/>
<line x1="203.70" y1="180.26" x2="205.70" y2="180.26" stroke="#111" stroke-width="0.8"/>
<line x1="203.70" y1="165.72" x2="205.70" y2="165.72" stroke="#111" stroke-width="0.8"/>
<line x1="203.70" y1="151.18" x2="205.70" y2="151.18" stroke="#111" stroke-width="0.8"/>
<line x1="203.70" y1="136.64" x2="205.70" y2="136.64" stroke="#111" stroke-width="0.8"/>
<line x1="203.70" y1="122.10" x2="205.70" y2="122.10" stroke="#111" stroke-width="0.8"/>
<line x1="208.70" y1="194.80" x2="208.70" y2="196.00" stroke="#111" stroke-width="0.8"/>
<line x1="213.16" y1="194.80" x2="213.16" y2="196.00" stroke="#111" stroke-width="0.8"/>
<line x1="217.63" y1="194.80" x2="217.63" y2="196.00" stroke="#111" stroke-width="0.8"/>
<line x1="222.09" y1="194.80" x2="222.09" y2="196.00" stroke="#111" stroke-width="0.8"/>
<line x1="226.56" y1="194.80" x2="226.56" y2="196.00" stroke="#111" stroke-width="0.8"/>
<line x1="231.02" y1="194.80" x2="231.02" y2="196.00" stroke="#111" stroke-width="0.8"/>
<line x1="235.49" y1="194.80" x2="235.49" y2="196.00" stroke="#111" stroke-width="0.8"/>
<line x1="239.95" y1="194.80" x2="239.95" y2="196.00" stroke="#111" stroke-width="0.8"/>
<line x1="244.41" y1="194.80" x2="244.41" y2="196.00" stroke="#111" stroke-width="0.8"/>
<line x1="248.88" y1="194.80" x2="248.88" y2="196.00" stroke="#111" stroke-width="0.8"/>
<line x1="253.34" y1="194.80" x2="253.34" y2="196.00" stroke="#111" stroke-width="0.8"/>
<line x1="257.81" y1="194.80" x2="257.81" y2="196.00" stroke="#111" stroke-width="0.8"/>
<line x1="262.27" y1="194.80" x2="262.27" y2="196.00" stroke="#111" stroke-width="0.8"/>
<line x1="266.74" y1="194.80" x2="266.74" y2="196.00" stroke="#111" stroke-width="0.8"/>
<line x1="271.20" y1="194.80" x2="271.20" y2="196.00" stroke="#111" stroke-width="0.8"/>
<path d="M211.44,194.78 L214.90,194.43 L217.15,192.70 L218.53,190.97 L219.91,194.08 L222.68,192.70 L224.07,186.12 L225.80,177.47 L227.53,167.09 L228.91,155.33 L230.29,151.52 L231.33,135.95 L232.72,129.38 L234.10,126.44 L235.31,133.36 L236.35,146.33 L237.39,132.49 L238.60,151.52 L239.64,178.34 L241.02,182.66 L242.40,190.45 L244.13,194.78" fill="none" stroke="#b41c3c" stroke-width="1.4" stroke-linejoin="round"/>
<path d="M207.98,194.78 L209.19,182.66 L210.22,178.34 L211.61,176.61 L212.65,165.36 L213.69,141.14 L214.55,126.44 L215.42,133.36 L216.28,127.30 L217.15,139.41 L218.53,160.17 L220.26,179.20 L221.99,185.26 L223.37,191.31 L224.41,194.78" fill="none" stroke="#34448c" stroke-width="1.4" stroke-linejoin="round"/>
<text x="198.20" y="158.60" font-size="8.8" text-anchor="middle" fill="#262626" font-weight="bold" textLength="29.1" lengthAdjust="spacingAndGlyphs" transform="rotate(-90 198.20 158.60)">% of Max</text>
<text x="239.90" y="208.90" font-size="8.4" text-anchor="middle" fill="#262626" font-weight="bold" textLength="36.4" lengthAdjust="spacingAndGlyphs">ILC2-GATA3</text>
<rect x="296.50" y="123.00" width="68.10" height="71.60" fill="none" stroke="#111" stroke-width="1.3"/>
<line x1="294.50" y1="194.60" x2="296.50" y2="194.60" stroke="#111" stroke-width="0.8"/>
<line x1="294.50" y1="180.28" x2="296.50" y2="180.28" stroke="#111" stroke-width="0.8"/>
<line x1="294.50" y1="165.96" x2="296.50" y2="165.96" stroke="#111" stroke-width="0.8"/>
<line x1="294.50" y1="151.64" x2="296.50" y2="151.64" stroke="#111" stroke-width="0.8"/>
<line x1="294.50" y1="137.32" x2="296.50" y2="137.32" stroke="#111" stroke-width="0.8"/>
<line x1="294.50" y1="123.00" x2="296.50" y2="123.00" stroke="#111" stroke-width="0.8"/>
<line x1="299.50" y1="194.60" x2="299.50" y2="195.80" stroke="#111" stroke-width="0.8"/>
<line x1="303.94" y1="194.60" x2="303.94" y2="195.80" stroke="#111" stroke-width="0.8"/>
<line x1="308.37" y1="194.60" x2="308.37" y2="195.80" stroke="#111" stroke-width="0.8"/>
<line x1="312.81" y1="194.60" x2="312.81" y2="195.80" stroke="#111" stroke-width="0.8"/>
<line x1="317.24" y1="194.60" x2="317.24" y2="195.80" stroke="#111" stroke-width="0.8"/>
<line x1="321.68" y1="194.60" x2="321.68" y2="195.80" stroke="#111" stroke-width="0.8"/>
<line x1="326.11" y1="194.60" x2="326.11" y2="195.80" stroke="#111" stroke-width="0.8"/>
<line x1="330.55" y1="194.60" x2="330.55" y2="195.80" stroke="#111" stroke-width="0.8"/>
<line x1="334.99" y1="194.60" x2="334.99" y2="195.80" stroke="#111" stroke-width="0.8"/>
<line x1="339.42" y1="194.60" x2="339.42" y2="195.80" stroke="#111" stroke-width="0.8"/>
<line x1="343.86" y1="194.60" x2="343.86" y2="195.80" stroke="#111" stroke-width="0.8"/>
<line x1="348.29" y1="194.60" x2="348.29" y2="195.80" stroke="#111" stroke-width="0.8"/>
<line x1="352.73" y1="194.60" x2="352.73" y2="195.80" stroke="#111" stroke-width="0.8"/>
<line x1="357.16" y1="194.60" x2="357.16" y2="195.80" stroke="#111" stroke-width="0.8"/>
<line x1="361.60" y1="194.60" x2="361.60" y2="195.80" stroke="#111" stroke-width="0.8"/>
<path d="M296.92,165.77 L299.81,171.54 L302.69,182.12 L304.62,175.38 L306.54,160.00 L308.46,146.15 L310.38,161.92 L312.31,157.12 L314.23,167.69 L316.15,151.35 L318.08,164.23 L320.38,127.69 L322.31,166.15 L324.23,152.31 L326.15,138.46 L327.69,156.15 L329.62,154.23 L331.15,160.38 L333.08,166.15 L334.62,176.35 L336.35,194.62 L364.23,194.62" fill="none" stroke="#b41c3c" stroke-width="1.4" stroke-linejoin="round"/>
<path d="M296.92,125.38 L297.88,148.46 L298.85,160.00 L300.38,160.38 L301.92,138.85 L303.65,126.92 L305.19,148.46 L306.54,167.69 L308.46,173.85 L310.38,165.77 L312.31,179.23 L314.23,175.38 L316.15,186.92 L317.69,194.62 L321.15,194.62 L323.85,185.96 L326.15,194.62 L364.23,194.62" fill="none" stroke="#34448c" stroke-width="1.4" stroke-linejoin="round"/>
<text x="288.90" y="158.90" font-size="8.8" text-anchor="middle" fill="#262626" font-weight="bold" textLength="29.8" lengthAdjust="spacingAndGlyphs" transform="rotate(-90 288.90 158.90)">% of Max</text>
<text x="330.75" y="208.90" font-size="8.4" text-anchor="middle" fill="#262626" font-weight="bold" textLength="32.3" lengthAdjust="spacingAndGlyphs">ILC1 T-bet</text>
<text x="9.20" y="237.60" font-size="12" text-anchor="start" fill="#111" stroke="#111" stroke-width="0.35" font-weight="bold">B</text>
<rect x="68.60" y="302.90" width="22.50" height="29.70" fill="none" stroke="#86ad62" stroke-width="1.25"/>
<rect x="95.80" y="299.60" width="22.60" height="33.00" fill="none" stroke="#4d3574" stroke-width="1.25"/>
<rect x="123.10" y="292.60" width="22.30" height="40.00" fill="none" stroke="#dea552" stroke-width="1.25"/>
<rect x="170.00" y="312.50" width="22.20" height="20.10" fill="none" stroke="#86ad62" stroke-width="1.25"/>
<rect x="196.00" y="297.00" width="22.70" height="35.60" fill="none" stroke="#4d3574" stroke-width="1.25"/>
<rect x="222.90" y="302.40" width="23.00" height="30.20" fill="none" stroke="#dea552" stroke-width="1.25"/>
<ellipse cx="81.9" cy="279.3" rx="1.6" ry="1.8" fill="#b5c59c"/>
<ellipse cx="78.0" cy="283.7" rx="1.6" ry="1.8" fill="#b5c59c"/>
<ellipse cx="79.7" cy="294.5" rx="1.6" ry="1.8" fill="#b5c59c"/>
<ellipse cx="76.4" cy="305.2" rx="1.6" ry="1.8" fill="#b5c59c"/>
<ellipse cx="83.8" cy="312.6" rx="1.6" ry="1.8" fill="#b5c59c"/>
<ellipse cx="81.9" cy="317.6" rx="1.6" ry="1.8" fill="#b5c59c"/>
<ellipse cx="78.0" cy="319.3" rx="1.6" ry="1.8" fill="#b5c59c"/>
<ellipse cx="107.3" cy="242.4" rx="1.6" ry="1.8" fill="#74708c"/>
<ellipse cx="107.3" cy="269.7" rx="1.6" ry="1.8" fill="#74708c"/>
<ellipse cx="105.3" cy="292.5" rx="1.6" ry="1.8" fill="#74708c"/>
<ellipse cx="103.7" cy="299.4" rx="1.6" ry="1.8" fill="#74708c"/>
<ellipse cx="111.1" cy="301.9" rx="1.6" ry="1.8" fill="#74708c"/>
<ellipse cx="105.3" cy="311.0" rx="1.6" ry="1.8" fill="#74708c"/>
<ellipse cx="109.5" cy="311.3" rx="1.6" ry="1.8" fill="#74708c"/>
<ellipse cx="103.3" cy="320.0" rx="1.6" ry="1.8" fill="#74708c"/>
<ellipse cx="107.3" cy="324.2" rx="1.6" ry="1.8" fill="#74708c"/>
<ellipse cx="111.1" cy="320.9" rx="1.6" ry="1.8" fill="#74708c"/>
<ellipse cx="131.0" cy="255.1" rx="1.6" ry="1.8" fill="#e6c69c"/>
<ellipse cx="134.7" cy="254.8" rx="1.6" ry="1.8" fill="#e6c69c"/>
<ellipse cx="138.4" cy="254.5" rx="1.6" ry="1.8" fill="#e6c69c"/>
<ellipse cx="134.2" cy="281.6" rx="1.6" ry="1.8" fill="#e6c69c"/>
<ellipse cx="131.8" cy="304.4" rx="1.6" ry="1.8" fill="#e6c69c"/>
<ellipse cx="136.7" cy="304.4" rx="1.6" ry="1.8" fill="#e6c69c"/>
<ellipse cx="138.0" cy="311.0" rx="1.6" ry="1.8" fill="#e6c69c"/>
<ellipse cx="131.0" cy="313.5" rx="1.6" ry="1.8" fill="#e6c69c"/>
<ellipse cx="134.2" cy="316.0" rx="1.6" ry="1.8" fill="#e6c69c"/>
<ellipse cx="134.2" cy="322.6" rx="1.6" ry="1.8" fill="#e6c69c"/>
<ellipse cx="181.0" cy="288.2" rx="1.6" ry="1.8" fill="#b5c59c"/>
<ellipse cx="181.0" cy="298.8" rx="1.6" ry="1.8" fill="#b5c59c"/>
<ellipse cx="177.3" cy="316.0" rx="1.6" ry="1.8" fill="#b5c59c"/>
<ellipse cx="184.6" cy="320.1" rx="1.6" ry="1.8" fill="#b5c59c"/>
<ellipse cx="177.7" cy="320.1" rx="1.6" ry="1.8" fill="#b5c59c"/>
<ellipse cx="181.0" cy="325.0" rx="1.6" ry="1.8" fill="#b5c59c"/>
<ellipse cx="207.2" cy="249.5" rx="1.6" ry="1.8" fill="#74708c"/>
<ellipse cx="207.2" cy="279.7" rx="1.6" ry="1.8" fill="#74708c"/>
<ellipse cx="203.4" cy="294.0" rx="1.6" ry="1.8" fill="#74708c"/>
<ellipse cx="202.6" cy="301.3" rx="1.6" ry="1.8" fill="#74708c"/>
<ellipse cx="207.5" cy="298.8" rx="1.6" ry="1.8" fill="#74708c"/>
<ellipse cx="213.2" cy="298.0" rx="1.6" ry="1.8" fill="#74708c"/>
<ellipse cx="207.2" cy="311.9" rx="1.6" ry="1.8" fill="#74708c"/>
<ellipse cx="208.8" cy="314.4" rx="1.6" ry="1.8" fill="#74708c"/>
<ellipse cx="205.0" cy="318.5" rx="1.6" ry="1.8" fill="#74708c"/>
<ellipse cx="232.0" cy="281.7" rx="1.6" ry="1.8" fill="#e6c69c"/>
<ellipse cx="236.9" cy="282.2" rx="1.6" ry="1.8" fill="#e6c69c"/>
<ellipse cx="234.5" cy="294.0" rx="1.6" ry="1.8" fill="#e6c69c"/>
<ellipse cx="232.0" cy="298.8" rx="1.6" ry="1.8" fill="#e6c69c"/>
<ellipse cx="237.7" cy="298.0" rx="1.6" ry="1.8" fill="#e6c69c"/>
<ellipse cx="228.7" cy="313.6" rx="1.6" ry="1.8" fill="#e6c69c"/>
<ellipse cx="240.2" cy="312.0" rx="1.6" ry="1.8" fill="#e6c69c"/>
<ellipse cx="232.0" cy="317.6" rx="1.6" ry="1.8" fill="#e6c69c"/>
<ellipse cx="236.9" cy="316.8" rx="1.6" ry="1.8" fill="#e6c69c"/>
<line x1="79.85" y1="297.70" x2="79.85" y2="307.70" stroke="#111" stroke-width="1.3"/>
<line x1="74.05" y1="297.70" x2="85.65" y2="297.70" stroke="#111" stroke-width="1.5"/>
<line x1="74.05" y1="307.70" x2="85.65" y2="307.70" stroke="#111" stroke-width="1.5"/>
<line x1="107.10" y1="292.70" x2="107.10" y2="305.80" stroke="#111" stroke-width="1.3"/>
<line x1="101.30" y1="292.70" x2="112.90" y2="292.70" stroke="#111" stroke-width="1.5"/>
<line x1="101.30" y1="305.80" x2="112.90" y2="305.80" stroke="#111" stroke-width="1.5"/>
<line x1="134.25" y1="284.60" x2="134.25" y2="299.00" stroke="#111" stroke-width="1.3"/>
<line x1="128.45" y1="284.60" x2="140.05" y2="284.60" stroke="#111" stroke-width="1.5"/>
<line x1="128.45" y1="299.00" x2="140.05" y2="299.00" stroke="#111" stroke-width="1.5"/>
<line x1="181.10" y1="307.80" x2="181.10" y2="316.80" stroke="#111" stroke-width="1.3"/>
<line x1="175.30" y1="307.80" x2="186.90" y2="307.80" stroke="#111" stroke-width="1.5"/>
<line x1="175.30" y1="316.80" x2="186.90" y2="316.80" stroke="#111" stroke-width="1.5"/>
<line x1="207.35" y1="290.70" x2="207.35" y2="302.10" stroke="#111" stroke-width="1.3"/>
<line x1="201.55" y1="290.70" x2="213.15" y2="290.70" stroke="#111" stroke-width="1.5"/>
<line x1="201.55" y1="302.10" x2="213.15" y2="302.10" stroke="#111" stroke-width="1.5"/>
<line x1="234.40" y1="298.00" x2="234.40" y2="306.20" stroke="#111" stroke-width="1.3"/>
<line x1="228.60" y1="298.00" x2="240.20" y2="298.00" stroke="#111" stroke-width="1.5"/>
<line x1="228.60" y1="306.20" x2="240.20" y2="306.20" stroke="#111" stroke-width="1.5"/>
<line x1="63.90" y1="233.10" x2="63.90" y2="333.35" stroke="#111" stroke-width="1.5"/>
<line x1="63.15" y1="332.60" x2="254.20" y2="332.60" stroke="#111" stroke-width="1.5"/>
<line x1="60.90" y1="332.60" x2="63.90" y2="332.60" stroke="#111" stroke-width="1.1"/>
<text x="58.10" y="335.45" font-size="8.0" text-anchor="end" fill="#333" textLength="4.8" lengthAdjust="spacingAndGlyphs">0</text>
<line x1="60.90" y1="308.48" x2="63.90" y2="308.48" stroke="#111" stroke-width="1.1"/>
<text x="58.10" y="311.33" font-size="8.0" text-anchor="end" fill="#333" textLength="15.0" lengthAdjust="spacingAndGlyphs">500</text>
<line x1="60.90" y1="284.35" x2="63.90" y2="284.35" stroke="#111" stroke-width="1.1"/>
<text x="58.10" y="287.20" font-size="8.0" text-anchor="end" fill="#333" textLength="20.6" lengthAdjust="spacingAndGlyphs">1000</text>
<line x1="60.90" y1="260.23" x2="63.90" y2="260.23" stroke="#111" stroke-width="1.1"/>
<text x="58.10" y="263.08" font-size="8.0" text-anchor="end" fill="#333" textLength="20.6" lengthAdjust="spacingAndGlyphs">1500</text>
<line x1="60.90" y1="236.10" x2="63.90" y2="236.10" stroke="#111" stroke-width="1.1"/>
<text x="58.10" y="238.95" font-size="8.0" text-anchor="end" fill="#333" textLength="20.6" lengthAdjust="spacingAndGlyphs">2000</text>
<text x="79.85" y="343.50" font-size="8.3" text-anchor="middle" fill="#333" textLength="13.3" lengthAdjust="spacingAndGlyphs">HD</text>
<text x="107.10" y="343.50" font-size="8.3" text-anchor="middle" fill="#333" textLength="27.3" lengthAdjust="spacingAndGlyphs">MGUS</text>
<text x="134.25" y="343.50" font-size="8.3" text-anchor="middle" fill="#333" textLength="21.1" lengthAdjust="spacingAndGlyphs">AMM</text>
<text x="181.10" y="343.50" font-size="8.3" text-anchor="middle" fill="#333" textLength="13.3" lengthAdjust="spacingAndGlyphs">HD</text>
<text x="207.35" y="343.50" font-size="8.3" text-anchor="middle" fill="#333" textLength="27.3" lengthAdjust="spacingAndGlyphs">MGUS</text>
<text x="234.40" y="343.50" font-size="8.3" text-anchor="middle" fill="#333" textLength="21.1" lengthAdjust="spacingAndGlyphs">AMM</text>
<line x1="80.50" y1="348.80" x2="134.00" y2="348.80" stroke="#111" stroke-width="1.2"/>
<text x="107.25" y="359.00" font-size="8.3" text-anchor="middle" fill="#333" textLength="28.2" lengthAdjust="spacingAndGlyphs">PBMCs</text>
<line x1="181.00" y1="348.80" x2="234.60" y2="348.80" stroke="#111" stroke-width="1.2"/>
<text x="207.80" y="359.00" font-size="8.3" text-anchor="middle" fill="#333" textLength="12.2" lengthAdjust="spacingAndGlyphs">BM</text>
<text x="159.40" y="372.50" font-size="10.0" text-anchor="middle" fill="#222" font-weight="bold" textLength="29.5" lengthAdjust="spacingAndGlyphs">Total ILCs</text>
<text x="32.70" y="284.40" font-size="8.8" text-anchor="middle" fill="#222" font-weight="bold" textLength="55.8" lengthAdjust="spacingAndGlyphs" transform="rotate(-90 32.70 284.40)">Number of cells/10</text>
<line x1="178.00" y1="242.20" x2="205.90" y2="242.20" stroke="#111" stroke-width="1.2"/>
<circle cx="191.95" cy="237.40" r="1.2" fill="#1a1a1a"/>
<text x="29.00" y="256.40" font-size="5.0" text-anchor="middle" fill="#222" font-weight="bold" transform="rotate(-90 29.00 256.40)">6</text>
<text x="268.00" y="237.60" font-size="12" text-anchor="start" fill="#111" stroke="#111" stroke-width="0.35" font-weight="bold">C</text>
<rect x="318.90" y="282.70" width="23.10" height="49.80" fill="none" stroke="#86ad62" stroke-width="1.25"/>
<rect x="348.30" y="296.80" width="22.70" height="35.70" fill="none" stroke="#4d3574" stroke-width="1.25"/>
<rect x="377.30" y="293.60" width="23.50" height="38.90" fill="none" stroke="#dea552" stroke-width="1.25"/>
<rect x="424.90" y="319.90" width="23.10" height="12.60" fill="none" stroke="#86ad62" stroke-width="1.25"/>
<rect x="454.10" y="296.30" width="22.80" height="36.20" fill="none" stroke="#4d3574" stroke-width="1.25"/>
<rect x="482.20" y="292.90" width="23.40" height="39.60" fill="none" stroke="#dea552" stroke-width="1.25"/>
<ellipse cx="330.4" cy="246.9" rx="1.6" ry="1.8" fill="#b5c59c"/>
<ellipse cx="328.7" cy="262.2" rx="1.6" ry="1.8" fill="#b5c59c"/>
<ellipse cx="332.2" cy="267.3" rx="1.6" ry="1.8" fill="#b5c59c"/>
<ellipse cx="330.4" cy="285.0" rx="1.6" ry="1.8" fill="#b5c59c"/>
<ellipse cx="330.4" cy="295.7" rx="1.6" ry="1.8" fill="#b5c59c"/>
<ellipse cx="330.4" cy="304.4" rx="1.6" ry="1.8" fill="#b5c59c"/>
<ellipse cx="330.4" cy="317.9" rx="1.6" ry="1.8" fill="#b5c59c"/>
<ellipse cx="359.3" cy="244.8" rx="1.6" ry="1.8" fill="#74708c"/>
<ellipse cx="359.3" cy="264.2" rx="1.6" ry="1.8" fill="#74708c"/>
<ellipse cx="359.3" cy="280.2" rx="1.6" ry="1.8" fill="#74708c"/>
<ellipse cx="359.3" cy="287.6" rx="1.6" ry="1.8" fill="#74708c"/>
<ellipse cx="355.5" cy="296.2" rx="1.6" ry="1.8" fill="#74708c"/>
<ellipse cx="363.3" cy="295.7" rx="1.6" ry="1.8" fill="#74708c"/>
<ellipse cx="359.3" cy="301.4" rx="1.6" ry="1.8" fill="#74708c"/>
<ellipse cx="358.1" cy="306.6" rx="1.6" ry="1.8" fill="#74708c"/>
<ellipse cx="359.3" cy="318.2" rx="1.6" ry="1.8" fill="#74708c"/>
<ellipse cx="361.6" cy="329.1" rx="1.6" ry="1.8" fill="#74708c"/>
<ellipse cx="357.3" cy="330.9" rx="1.6" ry="1.8" fill="#74708c"/>
<ellipse cx="388.8" cy="248.3" rx="1.6" ry="1.8" fill="#e6c69c"/>
<ellipse cx="391.0" cy="265.6" rx="1.6" ry="1.8" fill="#e6c69c"/>
<ellipse cx="387.0" cy="271.2" rx="1.6" ry="1.8" fill="#e6c69c"/>
<ellipse cx="388.8" cy="280.7" rx="1.6" ry="1.8" fill="#e6c69c"/>
<ellipse cx="385.3" cy="290.2" rx="1.6" ry="1.8" fill="#e6c69c"/>
<ellipse cx="387.0" cy="304.0" rx="1.6" ry="1.8" fill="#e6c69c"/>
<ellipse cx="391.0" cy="304.4" rx="1.6" ry="1.8" fill="#e6c69c"/>
<ellipse cx="385.3" cy="320.0" rx="1.6" ry="1.8" fill="#e6c69c"/>
<ellipse cx="388.8" cy="325.2" rx="1.6" ry="1.8" fill="#e6c69c"/>
<ellipse cx="393.3" cy="321.3" rx="1.6" ry="1.8" fill="#e6c69c"/>
<ellipse cx="436.4" cy="308.4" rx="1.6" ry="1.8" fill="#b5c59c"/>
<ellipse cx="433.0" cy="316.2" rx="1.6" ry="1.8" fill="#b5c59c"/>
<ellipse cx="440.4" cy="314.8" rx="1.6" ry="1.8" fill="#b5c59c"/>
<ellipse cx="431.2" cy="322.2" rx="1.6" ry="1.8" fill="#b5c59c"/>
<ellipse cx="436.4" cy="322.7" rx="1.6" ry="1.8" fill="#b5c59c"/>
<ellipse cx="441.6" cy="321.3" rx="1.6" ry="1.8" fill="#b5c59c"/>
<ellipse cx="434.2" cy="326.5" rx="1.6" ry="1.8" fill="#b5c59c"/>
<ellipse cx="438.7" cy="325.7" rx="1.6" ry="1.8" fill="#b5c59c"/>
<ellipse cx="465.3" cy="272.0" rx="1.6" ry="1.8" fill="#74708c"/>
<ellipse cx="461.2" cy="274.6" rx="1.6" ry="1.8" fill="#74708c"/>
<ellipse cx="465.3" cy="279.0" rx="1.6" ry="1.8" fill="#74708c"/>
<ellipse cx="469.3" cy="279.0" rx="1.6" ry="1.8" fill="#74708c"/>
<ellipse cx="465.3" cy="285.9" rx="1.6" ry="1.8" fill="#74708c"/>
<ellipse cx="463.3" cy="306.6" rx="1.6" ry="1.8" fill="#74708c"/>
<ellipse cx="461.5" cy="313.0" rx="1.6" ry="1.8" fill="#74708c"/>
<ellipse cx="467.6" cy="311.8" rx="1.6" ry="1.8" fill="#74708c"/>
<ellipse cx="465.3" cy="317.9" rx="1.6" ry="1.8" fill="#74708c"/>
<ellipse cx="469.3" cy="315.6" rx="1.6" ry="1.8" fill="#74708c"/>
<ellipse cx="493.6" cy="256.4" rx="1.6" ry="1.8" fill="#e6c69c"/>
<ellipse cx="495.8" cy="269.8" rx="1.6" ry="1.8" fill="#e6c69c"/>
<ellipse cx="491.8" cy="274.3" rx="1.6" ry="1.8" fill="#e6c69c"/>
<ellipse cx="490.1" cy="298.0" rx="1.6" ry="1.8" fill="#e6c69c"/>
<ellipse cx="491.8" cy="303.7" rx="1.6" ry="1.8" fill="#e6c69c"/>
<ellipse cx="497.0" cy="308.9" rx="1.6" ry="1.8" fill="#e6c69c"/>
<ellipse cx="494.4" cy="311.8" rx="1.6" ry="1.8" fill="#e6c69c"/>
<ellipse cx="491.8" cy="316.2" rx="1.6" ry="1.8" fill="#e6c69c"/>
<line x1="330.45" y1="275.50" x2="330.45" y2="289.80" stroke="#111" stroke-width="1.3"/>
<line x1="324.65" y1="275.50" x2="336.25" y2="275.50" stroke="#111" stroke-width="1.5"/>
<line x1="324.65" y1="289.80" x2="336.25" y2="289.80" stroke="#111" stroke-width="1.5"/>
<line x1="359.65" y1="289.30" x2="359.65" y2="303.50" stroke="#111" stroke-width="1.3"/>
<line x1="353.85" y1="289.30" x2="365.45" y2="289.30" stroke="#111" stroke-width="1.5"/>
<line x1="353.85" y1="303.50" x2="365.45" y2="303.50" stroke="#111" stroke-width="1.5"/>
<line x1="389.05" y1="286.40" x2="389.05" y2="300.20" stroke="#111" stroke-width="1.3"/>
<line x1="383.25" y1="286.40" x2="394.85" y2="286.40" stroke="#111" stroke-width="1.5"/>
<line x1="383.25" y1="300.20" x2="394.85" y2="300.20" stroke="#111" stroke-width="1.5"/>
<line x1="436.45" y1="317.20" x2="436.45" y2="321.50" stroke="#111" stroke-width="1.3"/>
<line x1="430.65" y1="317.20" x2="442.25" y2="317.20" stroke="#111" stroke-width="1.5"/>
<line x1="430.65" y1="321.50" x2="442.25" y2="321.50" stroke="#111" stroke-width="1.5"/>
<line x1="465.50" y1="290.70" x2="465.50" y2="301.40" stroke="#111" stroke-width="1.3"/>
<line x1="459.70" y1="290.70" x2="471.30" y2="290.70" stroke="#111" stroke-width="1.5"/>
<line x1="459.70" y1="301.40" x2="471.30" y2="301.40" stroke="#111" stroke-width="1.5"/>
<line x1="493.90" y1="286.40" x2="493.90" y2="298.30" stroke="#111" stroke-width="1.3"/>
<line x1="488.10" y1="286.40" x2="499.70" y2="286.40" stroke="#111" stroke-width="1.5"/>
<line x1="488.10" y1="298.30" x2="499.70" y2="298.30" stroke="#111" stroke-width="1.5"/>
<line x1="314.50" y1="231.25" x2="314.50" y2="333.25" stroke="#111" stroke-width="1.5"/>
<line x1="313.75" y1="332.50" x2="510.00" y2="332.50" stroke="#111" stroke-width="1.5"/>
<line x1="311.50" y1="332.50" x2="314.50" y2="332.50" stroke="#111" stroke-width="1.1"/>
<text x="307.50" y="335.35" font-size="8.0" text-anchor="end" fill="#333" textLength="4.8" lengthAdjust="spacingAndGlyphs">0</text>
<line x1="311.50" y1="312.85" x2="314.50" y2="312.85" stroke="#111" stroke-width="1.1"/>
<text x="307.50" y="315.70" font-size="8.0" text-anchor="end" fill="#333" textLength="10.2" lengthAdjust="spacingAndGlyphs">20</text>
<line x1="311.50" y1="293.20" x2="314.50" y2="293.20" stroke="#111" stroke-width="1.1"/>
<text x="307.50" y="296.05" font-size="8.0" text-anchor="end" fill="#333" textLength="10.2" lengthAdjust="spacingAndGlyphs">40</text>
<line x1="311.50" y1="273.55" x2="314.50" y2="273.55" stroke="#111" stroke-width="1.1"/>
<text x="307.50" y="276.40" font-size="8.0" text-anchor="end" fill="#333" textLength="10.2" lengthAdjust="spacingAndGlyphs">60</text>
<line x1="311.50" y1="253.90" x2="314.50" y2="253.90" stroke="#111" stroke-width="1.1"/>
<text x="307.50" y="256.75" font-size="8.0" text-anchor="end" fill="#333" textLength="10.2" lengthAdjust="spacingAndGlyphs">80</text>
<line x1="311.50" y1="234.25" x2="314.50" y2="234.25" stroke="#111" stroke-width="1.1"/>
<text x="307.50" y="237.10" font-size="8.0" text-anchor="end" fill="#333" textLength="15.0" lengthAdjust="spacingAndGlyphs">100</text>
<text x="330.45" y="343.20" font-size="8.3" text-anchor="middle" fill="#333" textLength="13.3" lengthAdjust="spacingAndGlyphs">HD</text>
<text x="359.65" y="343.20" font-size="8.3" text-anchor="middle" fill="#333" textLength="27.3" lengthAdjust="spacingAndGlyphs">MGUS</text>
<text x="389.05" y="343.20" font-size="8.3" text-anchor="middle" fill="#333" textLength="21.1" lengthAdjust="spacingAndGlyphs">AMM</text>
<text x="436.45" y="343.20" font-size="8.3" text-anchor="middle" fill="#333" textLength="13.3" lengthAdjust="spacingAndGlyphs">HD</text>
<text x="465.50" y="343.20" font-size="8.3" text-anchor="middle" fill="#333" textLength="27.3" lengthAdjust="spacingAndGlyphs">MGUS</text>
<text x="493.90" y="343.20" font-size="8.3" text-anchor="middle" fill="#333" textLength="21.1" lengthAdjust="spacingAndGlyphs">AMM</text>
<line x1="329.00" y1="348.50" x2="390.50" y2="348.50" stroke="#111" stroke-width="1.2"/>
<text x="359.75" y="359.00" font-size="8.3" text-anchor="middle" fill="#333" textLength="28.6" lengthAdjust="spacingAndGlyphs">PBMCs</text>
<line x1="436.50" y1="348.50" x2="494.00" y2="348.50" stroke="#111" stroke-width="1.2"/>
<text x="465.25" y="359.00" font-size="8.3" text-anchor="middle" fill="#333" textLength="12.2" lengthAdjust="spacingAndGlyphs">BM</text>
<text x="412.70" y="372.70" font-size="10.0" text-anchor="middle" fill="#222" font-weight="bold" textLength="13.7" lengthAdjust="spacingAndGlyphs">ILC1</text>
<text x="288.20" y="281.80" font-size="8.8" text-anchor="middle" fill="#222" font-weight="bold" textLength="45.8" lengthAdjust="spacingAndGlyphs" transform="rotate(-90 288.20 281.80)">% of total ILCs</text>
<line x1="431.20" y1="243.80" x2="488.40" y2="243.80" stroke="#111" stroke-width="1.2"/>
<circle cx="455.65" cy="239.00" r="1.2" fill="#1a1a1a"/>
<circle cx="459.80" cy="239.00" r="1.2" fill="#1a1a1a"/>
<circle cx="463.95" cy="239.00" r="1.2" fill="#1a1a1a"/>
<line x1="433.50" y1="260.30" x2="462.40" y2="260.30" stroke="#111" stroke-width="1.2"/>
<circle cx="445.88" cy="255.50" r="1.2" fill="#1a1a1a"/>
<circle cx="450.02" cy="255.50" r="1.2" fill="#1a1a1a"/>
<text x="9.20" y="401.00" font-size="12" text-anchor="start" fill="#111" stroke="#111" stroke-width="0.35" font-weight="bold">D</text>
<rect x="68.70" y="478.90" width="22.50" height="17.50" fill="none" stroke="#86ad62" stroke-width="1.25"/>
<rect x="95.70" y="456.50" width="22.90" height="39.90" fill="none" stroke="#4d3574" stroke-width="1.25"/>
<rect x="123.20" y="468.10" width="22.70" height="28.30" fill="none" stroke="#dea552" stroke-width="1.25"/>
<rect x="167.10" y="447.60" width="22.90" height="48.80" fill="none" stroke="#86ad62" stroke-width="1.25"/>
<rect x="194.90" y="472.90" width="22.70" height="23.50" fill="none" stroke="#4d3574" stroke-width="1.25"/>
<rect x="223.20" y="476.90" width="23.50" height="19.50" fill="none" stroke="#dea552" stroke-width="1.25"/>
<ellipse cx="76.4" cy="467.5" rx="1.6" ry="1.8" fill="#b5c59c"/>
<ellipse cx="80.2" cy="468.7" rx="1.6" ry="1.8" fill="#b5c59c"/>
<ellipse cx="83.8" cy="467.0" rx="1.6" ry="1.8" fill="#b5c59c"/>
<ellipse cx="76.4" cy="475.3" rx="1.6" ry="1.8" fill="#b5c59c"/>
<ellipse cx="83.8" cy="475.3" rx="1.6" ry="1.8" fill="#b5c59c"/>
<ellipse cx="80.2" cy="486.0" rx="1.6" ry="1.8" fill="#b5c59c"/>
<ellipse cx="78.1" cy="494.3" rx="1.6" ry="1.8" fill="#b5c59c"/>
<ellipse cx="82.2" cy="493.5" rx="1.6" ry="1.8" fill="#b5c59c"/>
<ellipse cx="107.3" cy="421.5" rx="1.6" ry="1.8" fill="#74708c"/>
<ellipse cx="107.3" cy="428.2" rx="1.6" ry="1.8" fill="#74708c"/>
<ellipse cx="107.3" cy="434.4" rx="1.6" ry="1.8" fill="#74708c"/>
<ellipse cx="107.3" cy="446.0" rx="1.6" ry="1.8" fill="#74708c"/>
<ellipse cx="107.3" cy="452.1" rx="1.6" ry="1.8" fill="#74708c"/>
<ellipse cx="103.7" cy="462.1" rx="1.6" ry="1.8" fill="#74708c"/>
<ellipse cx="111.1" cy="462.1" rx="1.6" ry="1.8" fill="#74708c"/>
<ellipse cx="107.3" cy="466.5" rx="1.6" ry="1.8" fill="#74708c"/>
<ellipse cx="107.3" cy="473.3" rx="1.6" ry="1.8" fill="#74708c"/>
<ellipse cx="109.0" cy="484.0" rx="1.6" ry="1.8" fill="#74708c"/>
<ellipse cx="105.3" cy="489.0" rx="1.6" ry="1.8" fill="#74708c"/>
<ellipse cx="134.3" cy="426.5" rx="1.6" ry="1.8" fill="#e6c69c"/>
<ellipse cx="132.1" cy="444.2" rx="1.6" ry="1.8" fill="#e6c69c"/>
<ellipse cx="136.4" cy="449.7" rx="1.6" ry="1.8" fill="#e6c69c"/>
<ellipse cx="130.1" cy="465.4" rx="1.6" ry="1.8" fill="#e6c69c"/>
<ellipse cx="140.1" cy="465.4" rx="1.6" ry="1.8" fill="#e6c69c"/>
<ellipse cx="130.1" cy="480.2" rx="1.6" ry="1.8" fill="#e6c69c"/>
<ellipse cx="134.3" cy="482.7" rx="1.6" ry="1.8" fill="#e6c69c"/>
<ellipse cx="138.1" cy="478.6" rx="1.6" ry="1.8" fill="#e6c69c"/>
<ellipse cx="132.1" cy="491.0" rx="1.6" ry="1.8" fill="#e6c69c"/>
<ellipse cx="136.4" cy="491.0" rx="1.6" ry="1.8" fill="#e6c69c"/>
<ellipse cx="178.6" cy="421.8" rx="1.6" ry="1.8" fill="#b5c59c"/>
<ellipse cx="176.5" cy="427.0" rx="1.6" ry="1.8" fill="#b5c59c"/>
<ellipse cx="180.3" cy="429.6" rx="1.6" ry="1.8" fill="#b5c59c"/>
<ellipse cx="176.5" cy="450.4" rx="1.6" ry="1.8" fill="#b5c59c"/>
<ellipse cx="178.6" cy="463.4" rx="1.6" ry="1.8" fill="#b5c59c"/>
<ellipse cx="180.3" cy="465.6" rx="1.6" ry="1.8" fill="#b5c59c"/>
<ellipse cx="176.5" cy="469.8" rx="1.6" ry="1.8" fill="#b5c59c"/>
<ellipse cx="206.3" cy="432.7" rx="1.6" ry="1.8" fill="#74708c"/>
<ellipse cx="206.3" cy="463.4" rx="1.6" ry="1.8" fill="#74708c"/>
<ellipse cx="212.3" cy="467.7" rx="1.6" ry="1.8" fill="#74708c"/>
<ellipse cx="202.0" cy="477.7" rx="1.6" ry="1.8" fill="#74708c"/>
<ellipse cx="209.7" cy="477.7" rx="1.6" ry="1.8" fill="#74708c"/>
<ellipse cx="206.3" cy="482.4" rx="1.6" ry="1.8" fill="#74708c"/>
<ellipse cx="208.0" cy="486.7" rx="1.6" ry="1.8" fill="#74708c"/>
<ellipse cx="204.2" cy="489.3" rx="1.6" ry="1.8" fill="#74708c"/>
<ellipse cx="233.1" cy="439.1" rx="1.6" ry="1.8" fill="#e6c69c"/>
<ellipse cx="237.1" cy="439.1" rx="1.6" ry="1.8" fill="#e6c69c"/>
<ellipse cx="234.8" cy="455.9" rx="1.6" ry="1.8" fill="#e6c69c"/>
<ellipse cx="234.0" cy="479.8" rx="1.6" ry="1.8" fill="#e6c69c"/>
<ellipse cx="227.0" cy="490.2" rx="1.6" ry="1.8" fill="#e6c69c"/>
<ellipse cx="231.4" cy="494.5" rx="1.6" ry="1.8" fill="#e6c69c"/>
<ellipse cx="239.2" cy="494.5" rx="1.6" ry="1.8" fill="#e6c69c"/>
<ellipse cx="243.0" cy="492.8" rx="1.6" ry="1.8" fill="#e6c69c"/>
<line x1="79.95" y1="475.30" x2="79.95" y2="481.90" stroke="#111" stroke-width="1.3"/>
<line x1="74.15" y1="475.30" x2="85.75" y2="475.30" stroke="#111" stroke-width="1.5"/>
<line x1="74.15" y1="481.90" x2="85.75" y2="481.90" stroke="#111" stroke-width="1.5"/>
<line x1="107.15" y1="449.60" x2="107.15" y2="462.10" stroke="#111" stroke-width="1.3"/>
<line x1="101.35" y1="449.60" x2="112.95" y2="449.60" stroke="#111" stroke-width="1.5"/>
<line x1="101.35" y1="462.10" x2="112.95" y2="462.10" stroke="#111" stroke-width="1.5"/>
<line x1="134.55" y1="462.10" x2="134.55" y2="473.10" stroke="#111" stroke-width="1.3"/>
<line x1="128.75" y1="462.10" x2="140.35" y2="462.10" stroke="#111" stroke-width="1.5"/>
<line x1="128.75" y1="473.10" x2="140.35" y2="473.10" stroke="#111" stroke-width="1.5"/>
<line x1="178.55" y1="440.90" x2="178.55" y2="453.80" stroke="#111" stroke-width="1.3"/>
<line x1="172.75" y1="440.90" x2="184.35" y2="440.90" stroke="#111" stroke-width="1.5"/>
<line x1="172.75" y1="453.80" x2="184.35" y2="453.80" stroke="#111" stroke-width="1.5"/>
<line x1="206.25" y1="468.60" x2="206.25" y2="477.70" stroke="#111" stroke-width="1.3"/>
<line x1="200.45" y1="468.60" x2="212.05" y2="468.60" stroke="#111" stroke-width="1.5"/>
<line x1="200.45" y1="477.70" x2="212.05" y2="477.70" stroke="#111" stroke-width="1.5"/>
<line x1="234.95" y1="469.40" x2="234.95" y2="483.80" stroke="#111" stroke-width="1.3"/>
<line x1="229.15" y1="469.40" x2="240.75" y2="469.40" stroke="#111" stroke-width="1.5"/>
<line x1="229.15" y1="483.80" x2="240.75" y2="483.80" stroke="#111" stroke-width="1.5"/>
<line x1="64.40" y1="396.50" x2="64.40" y2="497.15" stroke="#111" stroke-width="1.5"/>
<line x1="63.65" y1="496.40" x2="255.50" y2="496.40" stroke="#111" stroke-width="1.5"/>
<line x1="61.40" y1="496.40" x2="64.40" y2="496.40" stroke="#111" stroke-width="1.1"/>
<text x="58.30" y="499.25" font-size="8.0" text-anchor="end" fill="#333" textLength="4.8" lengthAdjust="spacingAndGlyphs">0</text>
<line x1="61.40" y1="477.02" x2="64.40" y2="477.02" stroke="#111" stroke-width="1.1"/>
<text x="58.30" y="479.87" font-size="8.0" text-anchor="end" fill="#333" textLength="10.2" lengthAdjust="spacingAndGlyphs">20</text>
<line x1="61.40" y1="457.64" x2="64.40" y2="457.64" stroke="#111" stroke-width="1.1"/>
<text x="58.30" y="460.49" font-size="8.0" text-anchor="end" fill="#333" textLength="10.2" lengthAdjust="spacingAndGlyphs">40</text>
<line x1="61.40" y1="438.26" x2="64.40" y2="438.26" stroke="#111" stroke-width="1.1"/>
<text x="58.30" y="441.11" font-size="8.0" text-anchor="end" fill="#333" textLength="10.2" lengthAdjust="spacingAndGlyphs">60</text>
<line x1="61.40" y1="418.88" x2="64.40" y2="418.88" stroke="#111" stroke-width="1.1"/>
<text x="58.30" y="421.73" font-size="8.0" text-anchor="end" fill="#333" textLength="10.2" lengthAdjust="spacingAndGlyphs">80</text>
<line x1="61.40" y1="399.50" x2="64.40" y2="399.50" stroke="#111" stroke-width="1.1"/>
<text x="58.30" y="402.35" font-size="8.0" text-anchor="end" fill="#333" textLength="15.0" lengthAdjust="spacingAndGlyphs">100</text>
<text x="79.95" y="507.00" font-size="8.3" text-anchor="middle" fill="#333" textLength="13.3" lengthAdjust="spacingAndGlyphs">HD</text>
<text x="107.15" y="507.00" font-size="8.3" text-anchor="middle" fill="#333" textLength="27.3" lengthAdjust="spacingAndGlyphs">MGUS</text>
<text x="134.55" y="507.00" font-size="8.3" text-anchor="middle" fill="#333" textLength="21.1" lengthAdjust="spacingAndGlyphs">AMM</text>
<text x="178.55" y="507.00" font-size="8.3" text-anchor="middle" fill="#333" textLength="13.3" lengthAdjust="spacingAndGlyphs">HD</text>
<text x="206.25" y="507.00" font-size="8.3" text-anchor="middle" fill="#333" textLength="27.3" lengthAdjust="spacingAndGlyphs">MGUS</text>
<text x="234.95" y="507.00" font-size="8.3" text-anchor="middle" fill="#333" textLength="21.1" lengthAdjust="spacingAndGlyphs">AMM</text>
<line x1="79.00" y1="511.60" x2="134.50" y2="511.60" stroke="#111" stroke-width="1.2"/>
<text x="106.75" y="522.40" font-size="8.3" text-anchor="middle" fill="#333" textLength="28.4" lengthAdjust="spacingAndGlyphs">PBMCs</text>
<line x1="177.00" y1="511.90" x2="236.10" y2="511.90" stroke="#111" stroke-width="1.2"/>
<text x="206.55" y="522.40" font-size="8.3" text-anchor="middle" fill="#333" textLength="12.2" lengthAdjust="spacingAndGlyphs">BM</text>
<text x="156.90" y="535.70" font-size="10.0" text-anchor="middle" fill="#222" font-weight="bold" textLength="14.4" lengthAdjust="spacingAndGlyphs">ILC2</text>
<text x="38.30" y="446.30" font-size="8.8" text-anchor="middle" fill="#222" font-weight="bold" textLength="47.0" lengthAdjust="spacingAndGlyphs" transform="rotate(-90 38.30 446.30)">% of total ILCs</text>
<line x1="79.20" y1="414.40" x2="106.20" y2="414.40" stroke="#111" stroke-width="1.2"/>
<circle cx="90.62" cy="409.60" r="1.2" fill="#1a1a1a"/>
<circle cx="94.78" cy="409.60" r="1.2" fill="#1a1a1a"/>
<line x1="177.70" y1="403.70" x2="235.70" y2="403.70" stroke="#111" stroke-width="1.2"/>
<circle cx="206.70" cy="398.90" r="1.2" fill="#1a1a1a"/>
<line x1="178.90" y1="415.00" x2="206.60" y2="415.00" stroke="#111" stroke-width="1.2"/>
<circle cx="190.68" cy="410.20" r="1.2" fill="#1a1a1a"/>
<circle cx="194.82" cy="410.20" r="1.2" fill="#1a1a1a"/>
<text x="268.00" y="401.00" font-size="12" text-anchor="start" fill="#111" stroke="#111" stroke-width="0.35" font-weight="bold">E</text>
<rect x="318.20" y="461.00" width="23.00" height="35.10" fill="none" stroke="#86ad62" stroke-width="1.25"/>
<rect x="345.70" y="473.00" width="23.10" height="23.10" fill="none" stroke="#4d3574" stroke-width="1.25"/>
<rect x="373.30" y="464.30" width="23.60" height="31.80" fill="none" stroke="#dea552" stroke-width="1.25"/>
<rect x="419.20" y="463.90" width="23.40" height="32.20" fill="none" stroke="#86ad62" stroke-width="1.25"/>
<rect x="447.80" y="455.40" width="23.20" height="40.70" fill="none" stroke="#4d3574" stroke-width="1.25"/>
<rect x="476.10" y="457.30" width="23.30" height="38.80" fill="none" stroke="#dea552" stroke-width="1.25"/>
<ellipse cx="329.7" cy="414.1" rx="1.6" ry="1.8" fill="#b5c59c"/>
<ellipse cx="329.7" cy="429.4" rx="1.6" ry="1.8" fill="#b5c59c"/>
<ellipse cx="328.1" cy="448.3" rx="1.6" ry="1.8" fill="#b5c59c"/>
<ellipse cx="331.9" cy="448.3" rx="1.6" ry="1.8" fill="#b5c59c"/>
<ellipse cx="328.1" cy="472.8" rx="1.6" ry="1.8" fill="#b5c59c"/>
<ellipse cx="328.1" cy="483.5" rx="1.6" ry="1.8" fill="#b5c59c"/>
<ellipse cx="331.9" cy="483.5" rx="1.6" ry="1.8" fill="#b5c59c"/>
<ellipse cx="329.7" cy="495.1" rx="1.6" ry="1.8" fill="#b5c59c"/>
<ellipse cx="355.7" cy="447.5" rx="1.6" ry="1.8" fill="#74708c"/>
<ellipse cx="359.5" cy="449.6" rx="1.6" ry="1.8" fill="#74708c"/>
<ellipse cx="357.3" cy="460.4" rx="1.6" ry="1.8" fill="#74708c"/>
<ellipse cx="355.7" cy="464.8" rx="1.6" ry="1.8" fill="#74708c"/>
<ellipse cx="353.7" cy="471.9" rx="1.6" ry="1.8" fill="#74708c"/>
<ellipse cx="357.3" cy="473.6" rx="1.6" ry="1.8" fill="#74708c"/>
<ellipse cx="361.1" cy="476.1" rx="1.6" ry="1.8" fill="#74708c"/>
<ellipse cx="355.7" cy="486.0" rx="1.6" ry="1.8" fill="#74708c"/>
<ellipse cx="361.1" cy="486.0" rx="1.6" ry="1.8" fill="#74708c"/>
<ellipse cx="359.0" cy="489.3" rx="1.6" ry="1.8" fill="#74708c"/>
<ellipse cx="355.3" cy="493.4" rx="1.6" ry="1.8" fill="#74708c"/>
<ellipse cx="384.8" cy="416.5" rx="1.6" ry="1.8" fill="#e6c69c"/>
<ellipse cx="384.8" cy="429.8" rx="1.6" ry="1.8" fill="#e6c69c"/>
<ellipse cx="384.8" cy="444.7" rx="1.6" ry="1.8" fill="#e6c69c"/>
<ellipse cx="383.1" cy="451.3" rx="1.6" ry="1.8" fill="#e6c69c"/>
<ellipse cx="381.8" cy="473.6" rx="1.6" ry="1.8" fill="#e6c69c"/>
<ellipse cx="386.8" cy="476.1" rx="1.6" ry="1.8" fill="#e6c69c"/>
<ellipse cx="381.0" cy="482.7" rx="1.6" ry="1.8" fill="#e6c69c"/>
<ellipse cx="386.8" cy="481.9" rx="1.6" ry="1.8" fill="#e6c69c"/>
<ellipse cx="384.8" cy="486.0" rx="1.6" ry="1.8" fill="#e6c69c"/>
<ellipse cx="389.2" cy="487.6" rx="1.6" ry="1.8" fill="#e6c69c"/>
<ellipse cx="385.4" cy="490.1" rx="1.6" ry="1.8" fill="#e6c69c"/>
<ellipse cx="430.6" cy="440.2" rx="1.6" ry="1.8" fill="#b5c59c"/>
<ellipse cx="428.8" cy="444.3" rx="1.6" ry="1.8" fill="#b5c59c"/>
<ellipse cx="432.5" cy="446.2" rx="1.6" ry="1.8" fill="#b5c59c"/>
<ellipse cx="428.8" cy="472.9" rx="1.6" ry="1.8" fill="#b5c59c"/>
<ellipse cx="435.2" cy="476.6" rx="1.6" ry="1.8" fill="#b5c59c"/>
<ellipse cx="432.5" cy="480.3" rx="1.6" ry="1.8" fill="#b5c59c"/>
<ellipse cx="428.8" cy="484.9" rx="1.6" ry="1.8" fill="#b5c59c"/>
<ellipse cx="459.2" cy="416.6" rx="1.6" ry="1.8" fill="#74708c"/>
<ellipse cx="458.7" cy="428.1" rx="1.6" ry="1.8" fill="#74708c"/>
<ellipse cx="456.8" cy="432.3" rx="1.6" ry="1.8" fill="#74708c"/>
<ellipse cx="461.1" cy="434.2" rx="1.6" ry="1.8" fill="#74708c"/>
<ellipse cx="460.5" cy="465.5" rx="1.6" ry="1.8" fill="#74708c"/>
<ellipse cx="457.4" cy="468.7" rx="1.6" ry="1.8" fill="#74708c"/>
<ellipse cx="456.8" cy="477.9" rx="1.6" ry="1.8" fill="#74708c"/>
<ellipse cx="461.6" cy="479.7" rx="1.6" ry="1.8" fill="#74708c"/>
<ellipse cx="459.2" cy="486.8" rx="1.6" ry="1.8" fill="#74708c"/>
<ellipse cx="487.8" cy="418.5" rx="1.6" ry="1.8" fill="#e6c69c"/>
<ellipse cx="487.8" cy="426.8" rx="1.6" ry="1.8" fill="#e6c69c"/>
<ellipse cx="487.8" cy="433.6" rx="1.6" ry="1.8" fill="#e6c69c"/>
<ellipse cx="481.9" cy="469.2" rx="1.6" ry="1.8" fill="#e6c69c"/>
<ellipse cx="485.6" cy="471.1" rx="1.6" ry="1.8" fill="#e6c69c"/>
<ellipse cx="489.3" cy="471.1" rx="1.6" ry="1.8" fill="#e6c69c"/>
<ellipse cx="493.7" cy="469.2" rx="1.6" ry="1.8" fill="#e6c69c"/>
<ellipse cx="489.7" cy="478.5" rx="1.6" ry="1.8" fill="#e6c69c"/>
<ellipse cx="485.6" cy="482.1" rx="1.6" ry="1.8" fill="#e6c69c"/>
<line x1="329.70" y1="451.80" x2="329.70" y2="469.80" stroke="#111" stroke-width="1.3"/>
<line x1="323.90" y1="451.80" x2="335.50" y2="451.80" stroke="#111" stroke-width="1.5"/>
<line x1="323.90" y1="469.80" x2="335.50" y2="469.80" stroke="#111" stroke-width="1.5"/>
<line x1="357.25" y1="467.80" x2="357.25" y2="476.90" stroke="#111" stroke-width="1.3"/>
<line x1="351.45" y1="467.80" x2="363.05" y2="467.80" stroke="#111" stroke-width="1.5"/>
<line x1="351.45" y1="476.90" x2="363.05" y2="476.90" stroke="#111" stroke-width="1.5"/>
<line x1="385.10" y1="457.00" x2="385.10" y2="470.80" stroke="#111" stroke-width="1.3"/>
<line x1="379.30" y1="457.00" x2="390.90" y2="457.00" stroke="#111" stroke-width="1.5"/>
<line x1="379.30" y1="470.80" x2="390.90" y2="470.80" stroke="#111" stroke-width="1.5"/>
<line x1="430.90" y1="457.60" x2="430.90" y2="469.80" stroke="#111" stroke-width="1.3"/>
<line x1="425.10" y1="457.60" x2="436.70" y2="457.60" stroke="#111" stroke-width="1.5"/>
<line x1="425.10" y1="469.80" x2="436.70" y2="469.80" stroke="#111" stroke-width="1.5"/>
<line x1="459.40" y1="448.00" x2="459.40" y2="461.80" stroke="#111" stroke-width="1.3"/>
<line x1="453.60" y1="448.00" x2="465.20" y2="448.00" stroke="#111" stroke-width="1.5"/>
<line x1="453.60" y1="461.80" x2="465.20" y2="461.80" stroke="#111" stroke-width="1.5"/>
<line x1="487.75" y1="449.80" x2="487.75" y2="464.10" stroke="#111" stroke-width="1.3"/>
<line x1="481.95" y1="449.80" x2="493.55" y2="449.80" stroke="#111" stroke-width="1.5"/>
<line x1="481.95" y1="464.10" x2="493.55" y2="464.10" stroke="#111" stroke-width="1.5"/>
<line x1="314.30" y1="396.30" x2="314.30" y2="496.85" stroke="#111" stroke-width="1.5"/>
<line x1="313.55" y1="496.10" x2="507.30" y2="496.10" stroke="#111" stroke-width="1.5"/>
<line x1="311.30" y1="496.10" x2="314.30" y2="496.10" stroke="#111" stroke-width="1.1"/>
<text x="307.30" y="498.95" font-size="8.0" text-anchor="end" fill="#333" textLength="4.8" lengthAdjust="spacingAndGlyphs">0</text>
<line x1="311.30" y1="471.90" x2="314.30" y2="471.90" stroke="#111" stroke-width="1.1"/>
<text x="307.30" y="474.75" font-size="8.0" text-anchor="end" fill="#333" textLength="10.2" lengthAdjust="spacingAndGlyphs">20</text>
<line x1="311.30" y1="447.70" x2="314.30" y2="447.70" stroke="#111" stroke-width="1.1"/>
<text x="307.30" y="450.55" font-size="8.0" text-anchor="end" fill="#333" textLength="10.2" lengthAdjust="spacingAndGlyphs">40</text>
<line x1="311.30" y1="423.50" x2="314.30" y2="423.50" stroke="#111" stroke-width="1.1"/>
<text x="307.30" y="426.35" font-size="8.0" text-anchor="end" fill="#333" textLength="10.2" lengthAdjust="spacingAndGlyphs">60</text>
<line x1="311.30" y1="399.30" x2="314.30" y2="399.30" stroke="#111" stroke-width="1.1"/>
<text x="307.30" y="402.15" font-size="8.0" text-anchor="end" fill="#333" textLength="10.2" lengthAdjust="spacingAndGlyphs">80</text>
<text x="329.70" y="506.60" font-size="8.3" text-anchor="middle" fill="#333" textLength="13.3" lengthAdjust="spacingAndGlyphs">HD</text>
<text x="357.25" y="506.60" font-size="8.3" text-anchor="middle" fill="#333" textLength="27.3" lengthAdjust="spacingAndGlyphs">MGUS</text>
<text x="385.10" y="506.60" font-size="8.3" text-anchor="middle" fill="#333" textLength="21.1" lengthAdjust="spacingAndGlyphs">AMM</text>
<text x="430.90" y="506.60" font-size="8.3" text-anchor="middle" fill="#333" textLength="13.3" lengthAdjust="spacingAndGlyphs">HD</text>
<text x="459.40" y="506.60" font-size="8.3" text-anchor="middle" fill="#333" textLength="27.3" lengthAdjust="spacingAndGlyphs">MGUS</text>
<text x="487.75" y="506.60" font-size="8.3" text-anchor="middle" fill="#333" textLength="21.1" lengthAdjust="spacingAndGlyphs">AMM</text>
<line x1="330.10" y1="511.60" x2="388.90" y2="511.60" stroke="#111" stroke-width="1.2"/>
<text x="359.50" y="522.40" font-size="8.3" text-anchor="middle" fill="#333" textLength="28.2" lengthAdjust="spacingAndGlyphs">PBMCs</text>
<line x1="432.50" y1="511.60" x2="490.00" y2="511.60" stroke="#111" stroke-width="1.2"/>
<text x="461.25" y="522.40" font-size="8.3" text-anchor="middle" fill="#333" textLength="12.2" lengthAdjust="spacingAndGlyphs">BM</text>
<text x="408.85" y="535.70" font-size="10.0" text-anchor="middle" fill="#222" font-weight="bold" textLength="14.7" lengthAdjust="spacingAndGlyphs">ILC3</text>
<text x="292.00" y="446.20" font-size="8.8" text-anchor="middle" fill="#222" font-weight="bold" textLength="46.5" lengthAdjust="spacingAndGlyphs" transform="rotate(-90 292.00 446.20)">% of total ILCs</text>
<text x="9.00" y="563.80" font-size="12" text-anchor="start" fill="#111" stroke="#111" stroke-width="0.35" font-weight="bold">F</text>
<rect x="67.30" y="594.20" width="18.60" height="66.80" fill="#6aad3e"/>
<line x1="76.60" y1="594.20" x2="76.60" y2="580.50" stroke="#111" stroke-width="1.3"/>
<line x1="72.00" y1="580.50" x2="81.20" y2="580.50" stroke="#111" stroke-width="1.4"/>
<rect x="90.60" y="594.20" width="19.10" height="66.80" fill="#5a2566"/>
<line x1="100.15" y1="594.20" x2="100.15" y2="583.00" stroke="#111" stroke-width="1.3"/>
<line x1="95.55" y1="583.00" x2="104.75" y2="583.00" stroke="#111" stroke-width="1.4"/>
<rect x="113.80" y="633.30" width="18.70" height="27.70" fill="#e8951f"/>
<line x1="123.15" y1="633.30" x2="123.15" y2="628.00" stroke="#111" stroke-width="1.3"/>
<line x1="118.55" y1="628.00" x2="127.75" y2="628.00" stroke="#111" stroke-width="1.4"/>
<rect x="146.30" y="624.00" width="18.20" height="37.00" fill="#6aad3e"/>
<line x1="155.40" y1="624.00" x2="155.40" y2="616.80" stroke="#111" stroke-width="1.3"/>
<line x1="150.80" y1="616.80" x2="160.00" y2="616.80" stroke="#111" stroke-width="1.4"/>
<rect x="170.00" y="627.30" width="18.80" height="33.70" fill="#5a2566"/>
<line x1="179.40" y1="627.30" x2="179.40" y2="619.30" stroke="#111" stroke-width="1.3"/>
<line x1="174.80" y1="619.30" x2="184.00" y2="619.30" stroke="#111" stroke-width="1.4"/>
<rect x="194.50" y="647.80" width="18.50" height="13.20" fill="#e8951f"/>
<line x1="203.75" y1="647.80" x2="203.75" y2="643.30" stroke="#111" stroke-width="1.3"/>
<line x1="199.15" y1="643.30" x2="208.35" y2="643.30" stroke="#111" stroke-width="1.4"/>
<rect x="226.30" y="651.80" width="18.70" height="9.20" fill="#6aad3e"/>
<line x1="235.65" y1="651.80" x2="235.65" y2="648.30" stroke="#111" stroke-width="1.3"/>
<line x1="231.05" y1="648.30" x2="240.25" y2="648.30" stroke="#111" stroke-width="1.4"/>
<rect x="250.80" y="656.30" width="18.00" height="4.70" fill="#5a2566"/>
<line x1="259.80" y1="656.30" x2="259.80" y2="653.30" stroke="#111" stroke-width="1.3"/>
<line x1="255.20" y1="653.30" x2="264.40" y2="653.30" stroke="#111" stroke-width="1.4"/>
<rect x="275.00" y="654.30" width="18.00" height="6.70" fill="#e8951f"/>
<line x1="284.00" y1="654.30" x2="284.00" y2="649.30" stroke="#111" stroke-width="1.3"/>
<line x1="279.40" y1="649.30" x2="288.60" y2="649.30" stroke="#111" stroke-width="1.4"/>
<line x1="63.80" y1="559.50" x2="63.80" y2="661.75" stroke="#111" stroke-width="1.5"/>
<line x1="63.05" y1="661.00" x2="297.50" y2="661.00" stroke="#111" stroke-width="1.6"/>
<line x1="60.10" y1="661.00" x2="63.80" y2="661.00" stroke="#111" stroke-width="1.2"/>
<text x="57.20" y="663.85" font-size="8.0" text-anchor="end" fill="#2a2a2a" textLength="4.8" lengthAdjust="spacingAndGlyphs">0</text>
<line x1="60.10" y1="628.00" x2="63.80" y2="628.00" stroke="#111" stroke-width="1.2"/>
<text x="57.20" y="630.85" font-size="8.0" text-anchor="end" fill="#2a2a2a" textLength="10.2" lengthAdjust="spacingAndGlyphs">20</text>
<line x1="60.10" y1="595.00" x2="63.80" y2="595.00" stroke="#111" stroke-width="1.2"/>
<text x="57.20" y="597.85" font-size="8.0" text-anchor="end" fill="#2a2a2a" textLength="10.2" lengthAdjust="spacingAndGlyphs">40</text>
<line x1="60.10" y1="562.00" x2="63.80" y2="562.00" stroke="#111" stroke-width="1.2"/>
<text x="57.20" y="564.85" font-size="8.0" text-anchor="end" fill="#2a2a2a" textLength="10.2" lengthAdjust="spacingAndGlyphs">60</text>
<text x="40.90" y="610.00" font-size="8.3" text-anchor="middle" fill="#222" textLength="33.4" lengthAdjust="spacingAndGlyphs" transform="rotate(-90 40.90 610.00)">Percentage</text>
<text x="76.50" y="672.20" font-size="8.5" text-anchor="middle" fill="#333" textLength="13.4" lengthAdjust="spacingAndGlyphs">HD</text>
<text x="99.10" y="672.20" font-size="8.5" text-anchor="middle" fill="#333" textLength="26.9" lengthAdjust="spacingAndGlyphs">MGUS</text>
<text x="125.40" y="672.20" font-size="8.5" text-anchor="middle" fill="#333" textLength="21.1" lengthAdjust="spacingAndGlyphs">AMM</text>
<text x="155.10" y="672.20" font-size="8.5" text-anchor="middle" fill="#333" textLength="13.9" lengthAdjust="spacingAndGlyphs">HD</text>
<text x="177.60" y="672.20" font-size="8.5" text-anchor="middle" fill="#333" textLength="26.9" lengthAdjust="spacingAndGlyphs">MGUS</text>
<text x="204.60" y="672.20" font-size="8.5" text-anchor="middle" fill="#333" textLength="21.2" lengthAdjust="spacingAndGlyphs">AMM</text>
<text x="235.40" y="672.20" font-size="8.5" text-anchor="middle" fill="#333" textLength="13.4" lengthAdjust="spacingAndGlyphs">HD</text>
<text x="259.00" y="672.20" font-size="8.5" text-anchor="middle" fill="#333" textLength="27.4" lengthAdjust="spacingAndGlyphs">MGUS</text>
<text x="285.40" y="672.20" font-size="8.5" text-anchor="middle" fill="#333" textLength="21.2" lengthAdjust="spacingAndGlyphs">AMM</text>
<line x1="76.90" y1="676.80" x2="126.60" y2="676.80" stroke="#111" stroke-width="1.2"/>
<text x="101.60" y="688.00" font-size="8.5" text-anchor="middle" fill="#333" textLength="38.7" lengthAdjust="spacingAndGlyphs">ILC1- IFNg</text>
<line x1="155.40" y1="676.80" x2="196.60" y2="676.80" stroke="#111" stroke-width="1.2"/>
<text x="180.40" y="688.00" font-size="8.5" text-anchor="middle" fill="#333" textLength="40.2" lengthAdjust="spacingAndGlyphs">ILC2-IL-13</text>
<line x1="238.00" y1="676.80" x2="285.00" y2="676.80" stroke="#111" stroke-width="1.2"/>
<text x="261.60" y="688.00" font-size="8.5" text-anchor="middle" fill="#333" textLength="40.8" lengthAdjust="spacingAndGlyphs">ILC3- IL-17</text>
<line x1="78.00" y1="563.70" x2="121.80" y2="563.70" stroke="#111" stroke-width="1.2"/>
<circle cx="100.00" cy="558.70" r="1.2" fill="#1a1a1a"/>
<line x1="100.80" y1="575.80" x2="128.80" y2="575.80" stroke="#111" stroke-width="1.2"/>
<circle cx="115.00" cy="570.80" r="1.2" fill="#1a1a1a"/>
<line x1="154.50" y1="563.00" x2="198.00" y2="563.00" stroke="#111" stroke-width="1.2"/>
<circle cx="176.30" cy="558.00" r="1.2" fill="#1a1a1a"/>
<line x1="178.80" y1="576.20" x2="202.00" y2="576.20" stroke="#111" stroke-width="1.2"/>
<circle cx="190.00" cy="571.20" r="1.2" fill="#1a1a1a"/>
<rect x="0" y="0" width="1.5" height="696" fill="#000"/><rect x="0" y="0" width="520" height="1.45" fill="#000"/><rect x="518.8" y="0" width="1.2" height="696" fill="#000"/><rect x="0" y="694.7" width="520" height="1.3" fill="#000"/>
</svg></body></html>
